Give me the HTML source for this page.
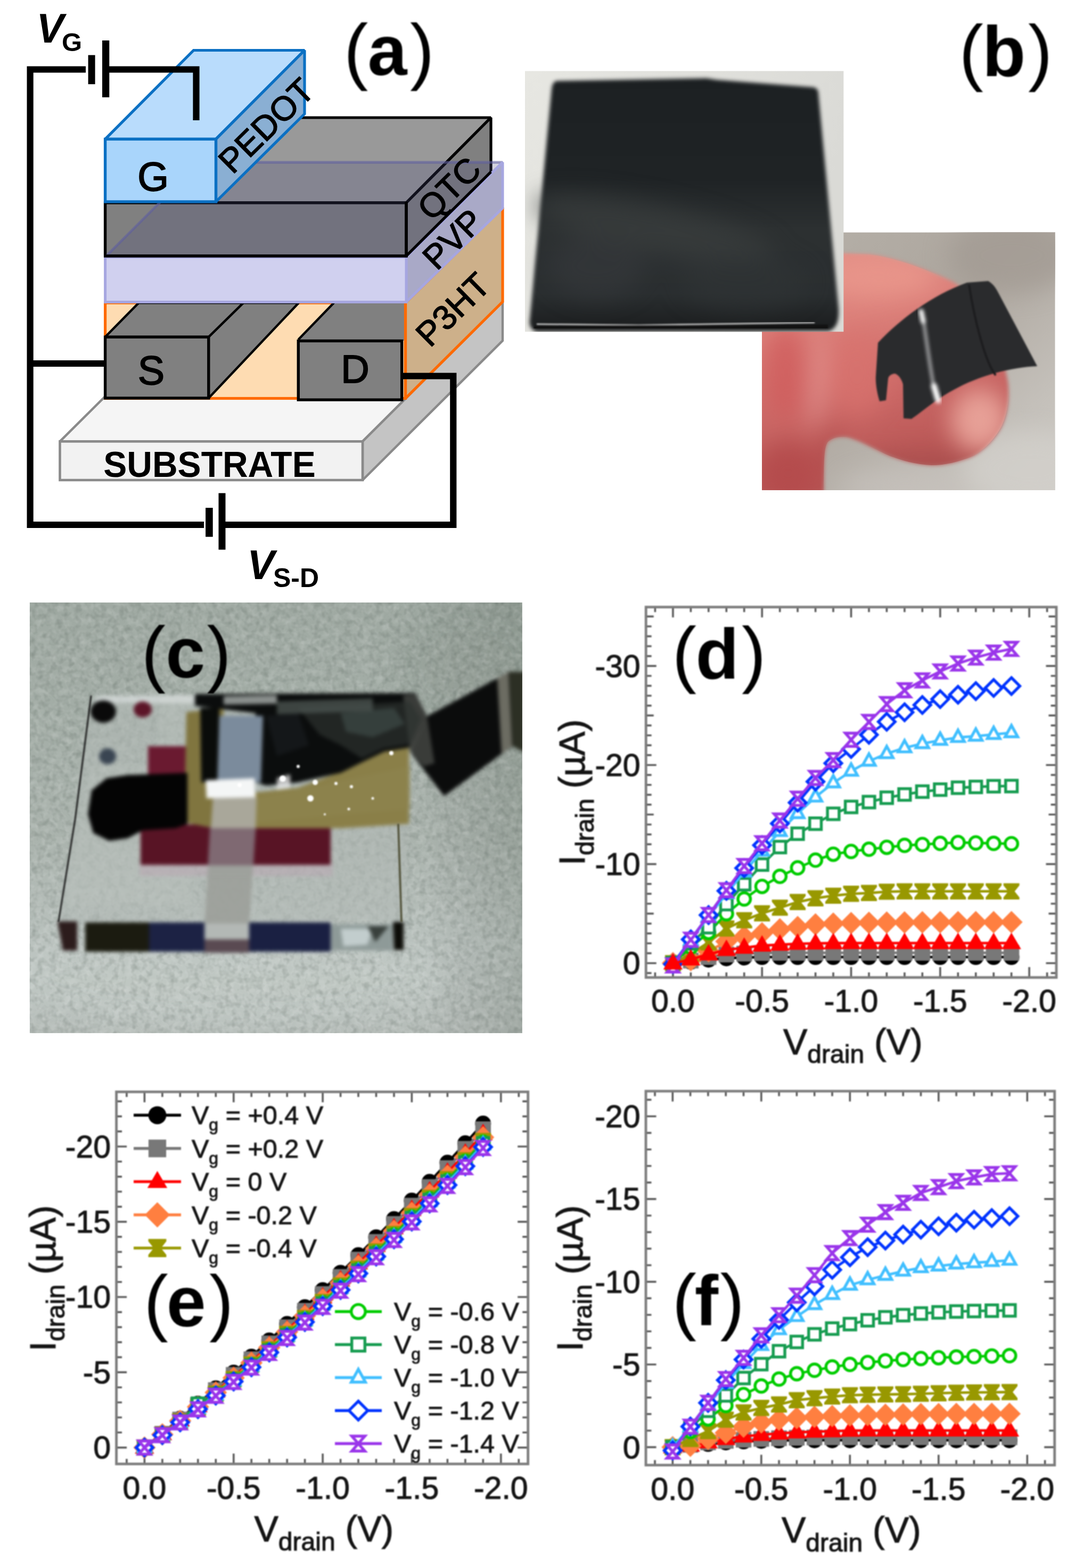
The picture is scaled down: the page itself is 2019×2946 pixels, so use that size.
<!DOCTYPE html>
<html lang="en"><head><meta charset="utf-8"><title>Figure</title>
<style>html,body{margin:0;padding:0;background:#fff}svg{display:block}</style></head>
<body>
<svg width="2019" height="2946" viewBox="0 0 2019 2946">
<defs><filter id="softA" color-interpolation-filters="sRGB" filterUnits="userSpaceOnUse" x="0" y="0" width="2019" height="1130"><feGaussianBlur stdDeviation="0.8"/></filter><filter id="softP" color-interpolation-filters="sRGB" filterUnits="userSpaceOnUse" x="0" y="1100" width="2019" height="1846"><feGaussianBlur stdDeviation="1.2"/></filter><filter id="softL" color-interpolation-filters="sRGB" filterUnits="userSpaceOnUse" x="0" y="0" width="2019" height="1400"><feGaussianBlur stdDeviation="1.0"/></filter></defs>
<rect width="2019" height="2946" fill="#fff"/>
<defs>
<filter id="b1" color-interpolation-filters="sRGB" x="-10%" y="-10%" width="120%" height="120%"><feGaussianBlur stdDeviation="1.6"/></filter>
<filter id="b3" color-interpolation-filters="sRGB" x="-20%" y="-20%" width="140%" height="140%"><feGaussianBlur stdDeviation="3.5"/></filter>
<filter id="b8" color-interpolation-filters="sRGB" x="-30%" y="-30%" width="160%" height="160%"><feGaussianBlur stdDeviation="9"/></filter>
<filter id="b20" color-interpolation-filters="sRGB" x="-50%" y="-50%" width="200%" height="200%"><feGaussianBlur stdDeviation="22"/></filter>
<filter id="grain" color-interpolation-filters="sRGB" x="0" y="0" width="100%" height="100%"><feTurbulence type="fractalNoise" baseFrequency="0.075" numOctaves="2" seed="7"/><feColorMatrix type="matrix" values="0 0 0 0 1  0 0 0 0 1  0 0 0 0 1  1.6 0 0 0 -0.62"/></filter>
<filter id="grainD" color-interpolation-filters="sRGB" x="0" y="0" width="100%" height="100%"><feTurbulence type="fractalNoise" baseFrequency="0.085" numOctaves="2" seed="3"/><feColorMatrix type="matrix" values="0 0 0 0 0.25  0 0 0 0 0.3  0 0 0 0 0.27  1.6 0 0 0 -0.7"/></filter>
<clipPath id="cpC"><rect x="55.7" y="1132" width="925.2" height="809.2"/></clipPath>
<clipPath id="cpB1"><rect x="986" y="133.3" width="598.6" height="490.2"/></clipPath>
<clipPath id="cpB2"><rect x="1431" y="436.4" width="550.7" height="484.6"/></clipPath>
<linearGradient id="gC" x1="0" y1="0" x2="0" y2="1"><stop offset="0" stop-color="#9fa9a2"/><stop offset="0.25" stop-color="#a3ada6"/><stop offset="0.55" stop-color="#aab3ad"/><stop offset="0.8" stop-color="#bac2be"/><stop offset="1" stop-color="#b6bdb9"/></linearGradient>
<linearGradient id="gCr" x1="0" y1="0" x2="1" y2="0"><stop offset="0" stop-color="#000" stop-opacity="0"/><stop offset="0.8" stop-color="#000" stop-opacity="0"/><stop offset="1" stop-color="#203020" stop-opacity="0.14"/></linearGradient>
<linearGradient id="gB1" x1="0" y1="0" x2="1" y2="0.3"><stop offset="0" stop-color="#e7e7e2"/><stop offset="1" stop-color="#dadad6"/></linearGradient>
<linearGradient id="gB1k" x1="0" y1="0" x2="0" y2="1"><stop offset="0" stop-color="#1c2022"/><stop offset="0.4" stop-color="#1f2325"/><stop offset="0.6" stop-color="#2c3031"/><stop offset="0.85" stop-color="#2a2e30"/><stop offset="1" stop-color="#1a1c1d"/></linearGradient>
<linearGradient id="gB2" x1="0" y1="0" x2="1" y2="1"><stop offset="0" stop-color="#b6b1a9"/><stop offset="0.45" stop-color="#ada69e"/><stop offset="0.8" stop-color="#c4c0ba"/><stop offset="1" stop-color="#cfccc7"/></linearGradient>
<linearGradient id="gFin" x1="0" y1="0" x2="0.25" y2="1"><stop offset="0" stop-color="#e2938a"/><stop offset="0.35" stop-color="#dc807a"/><stop offset="0.7" stop-color="#c96664"/><stop offset="1" stop-color="#b65453"/></linearGradient>
</defs>
<g id="panel-c" clip-path="url(#cpC)">
<rect x="55.7" y="1132" width="925.2" height="809.2" fill="url(#gC)"/>
<rect x="55.7" y="1132" width="925.2" height="809.2" fill="url(#gCr)"/>
<ellipse cx="420" cy="1840" rx="420" ry="90" fill="#c3cbc7" opacity="0.6" filter="url(#b20)"/>
<ellipse cx="880" cy="1250" rx="140" ry="120" fill="#8f9a92" opacity="0.5" filter="url(#b20)"/>
<rect x="55.7" y="1132" width="925.2" height="809.2" filter="url(#grain)" opacity="0.22"/>
<rect x="55.7" y="1132" width="925.2" height="809.2" filter="url(#grainD)" opacity="0.3"/>
<g filter="url(#b3)">
<polygon points="172.0,1309.0 780.0,1304.0 754.0,1732.0 110.0,1732.0" fill="#b2bab6" opacity="0.55"/>
<polygon points="172.0,1440.0 300.0,1440.0 300.0,1309.0 360.0,1309.0 360.0,1700.0 120.0,1700.0" fill="#bcc4c0" opacity="0.3"/>
<polygon points="180.0,1307.0 400.0,1305.0 400.0,1322.0 180.0,1320.0" fill="#d5dad8" opacity="0.8"/>
<polygon points="262.0,1620.0 625.0,1620.0 625.0,1646.0 262.0,1646.0" fill="#b9a8b2" opacity="0.55"/>
<polygon points="278.0,1402.0 352.0,1402.0 352.0,1458.0 278.0,1458.0" fill="#6a1a30" />
<polygon points="264.0,1549.0 621.0,1549.0 621.0,1625.0 264.0,1625.0" fill="#581425" />
<polygon points="350.0,1338.0 420.0,1330.0 420.0,1560.0 346.0,1545.0" fill="#80753f" />
<polygon points="470.0,1490.0 560.0,1480.0 640.0,1450.0 720.0,1412.0 768.0,1400.0 768.0,1548.0 640.0,1556.0 470.0,1556.0" fill="#8a7f48" />
<polygon points="480.0,1500.0 770.0,1440.0 770.0,1520.0 480.0,1545.0" fill="#8e8450" opacity="0.6"/>
<polygon points="172.0,1485.0 200.0,1462.0 240.0,1456.0 352.0,1452.0 352.0,1548.0 330.0,1556.0 268.0,1560.0 240.0,1575.0 205.0,1580.0 175.0,1565.0 165.0,1530.0" fill="#040404" />
<polygon points="366.0,1304.0 780.0,1302.0 802.0,1346.0 772.0,1404.0 722.0,1412.0 676.0,1434.0 640.0,1452.0 560.0,1470.0 500.0,1476.0 480.0,1470.0 480.0,1340.0 366.0,1326.0" fill="#0b0d0d" />
<polygon points="376.0,1330.0 412.0,1330.0 410.0,1470.0 378.0,1470.0" fill="#0a0c0a" />
<polygon points="801.0,1346.0 955.0,1263.0 985.0,1263.0 985.0,1412.0 962.0,1402.0 834.0,1496.0 773.0,1416.0" fill="#0b0c0c" />
<polygon points="757.0,1306.0 780.0,1304.0 802.0,1346.0 816.0,1434.0 796.0,1440.0 770.0,1412.0" fill="#3d3f3c" opacity="0.95"/>
<polygon points="934.0,1274.0 955.0,1263.0 962.0,1402.0 942.0,1416.0" fill="#6c6c62" />
<polygon points="956.0,1262.0 985.0,1262.0 985.0,1414.0 963.0,1402.0" fill="#2c2f24" />
<polygon points="560.0,1330.0 700.0,1322.0 770.0,1318.0 790.0,1350.0 770.0,1398.0 720.0,1406.0 680.0,1425.0 640.0,1400.0 600.0,1380.0" fill="#2c322f" opacity="0.7"/>
<polygon points="640.0,1340.0 740.0,1330.0 760.0,1360.0 700.0,1385.0 650.0,1375.0" fill="#465350" opacity="0.55"/>
<polygon points="500.0,1345.0 560.0,1340.0 580.0,1400.0 520.0,1420.0" fill="#181c20" opacity="0.7"/>
<polygon points="520.0,1318.0 700.0,1312.0 700.0,1336.0 520.0,1342.0" fill="#4a524f" opacity="0.8"/>
<polygon points="420.0,1308.0 520.0,1306.0 520.0,1322.0 420.0,1324.0" fill="#aab0ae" opacity="0.8"/>
<polygon points="412.0,1345.0 494.0,1345.0 490.0,1470.0 408.0,1470.0" fill="#7b8b9c" />
<polygon points="396.0,1556.0 480.0,1556.0 468.0,1735.0 384.0,1735.0" fill="#9c9f9a" opacity="0.92"/>
<polygon points="394.0,1552.0 480.0,1552.0 476.0,1626.0 390.0,1626.0" fill="#7a626c" opacity="0.85"/>
<polygon points="400.0,1498.0 482.0,1498.0 480.0,1556.0 396.0,1556.0" fill="#a9a79a" />
<polygon points="386.0,1466.0 478.0,1462.0 480.0,1498.0 388.0,1500.0" fill="#f4f6f6" />
<polygon points="520.0,1462.0 545.0,1455.0 545.0,1480.0 520.0,1484.0" fill="#e8e8e8" opacity="0.8"/>
<polygon points="108.0,1731.0 145.0,1731.0 145.0,1786.0 118.0,1786.0" fill="#2c1c1c" />
<polygon points="160.0,1733.0 280.0,1733.0 280.0,1788.0 160.0,1788.0" fill="#1b1b10" />
<polygon points="280.0,1733.0 384.0,1733.0 384.0,1788.0 280.0,1788.0" fill="#1c2244" />
<polygon points="384.0,1735.0 468.0,1735.0 468.0,1765.0 384.0,1765.0" fill="#b3b8b5" />
<polygon points="384.0,1765.0 468.0,1765.0 468.0,1790.0 384.0,1790.0" fill="#5a4a52" />
<polygon points="468.0,1733.0 621.0,1733.0 621.0,1788.0 468.0,1788.0" fill="#1a2042" />
<polygon points="621.0,1737.0 738.0,1737.0 738.0,1786.0 621.0,1786.0" fill="#8e9a98" />
<polygon points="640.0,1745.0 700.0,1745.0 690.0,1775.0 645.0,1778.0" fill="#c2cdcd" />
<polygon points="690.0,1740.0 730.0,1740.0 705.0,1770.0" fill="#39403c" />
<polygon points="738.0,1732.0 758.0,1732.0 758.0,1785.0 740.0,1785.0" fill="#0d0d08" />
<ellipse cx="194" cy="1337" rx="24" ry="21" fill="#0a0a0a"/>
<ellipse cx="268" cy="1333" rx="17" ry="15" fill="#5c1528"/>
<ellipse cx="202" cy="1421" rx="16" ry="15" fill="#3a4552"/>
</g>
<g filter="url(#b1)" fill="none" stroke-linecap="round">
<path d="M171,1308 L141,1540 L110,1731" stroke="#1c1c1c" stroke-width="3"/>
<path d="M748,1549 L754,1731" stroke="#4a4a30" stroke-width="3.5"/>
</g>
<g fill="#fff" filter="url(#b1)">
<circle cx="531" cy="1463" r="6"/>
<circle cx="592" cy="1470" r="5"/>
<circle cx="583" cy="1500" r="6"/>
<circle cx="631" cy="1472" r="3"/>
<circle cx="660" cy="1478" r="3"/>
<circle cx="735" cy="1415" r="4"/>
<circle cx="560" cy="1440" r="3"/>
<circle cx="700" cy="1500" r="2.5"/>
<circle cx="655" cy="1520" r="2.5"/>
<circle cx="610" cy="1530" r="2"/>
<circle cx="450" cy="1475" r="4"/>
</g>
</g>
<g id="panel-b2" clip-path="url(#cpB2)">
<rect x="1431" y="436.4" width="550.7" height="484.6" fill="url(#gB2)"/>
<g filter="url(#b20)">
<ellipse cx="1900" cy="480" rx="120" ry="70" fill="#a39b93" opacity="0.8"/>
<ellipse cx="1930" cy="880" rx="120" ry="70" fill="#d2cfcb" opacity="0.8"/>
<ellipse cx="1700" cy="915" rx="120" ry="30" fill="#c6c1bb" opacity="0.8"/>
</g>
<clipPath id="cpFin"><path d="M1420,470 L1586,476 L1633,478 C1660,481 1690,490 1711,497 C1740,507 1770,520 1789,529 C1840,560 1880,640 1893,718 C1896,745 1893,775 1882,799 C1872,820 1850,845 1827,857 C1800,868 1775,874 1750,874 C1720,873 1695,865 1672,857 C1650,848 1620,830 1594,822 C1580,819 1565,821 1555,830 C1548,840 1547,860 1547,925 L1420,925 Z"/></clipPath>
<g filter="url(#b3)"><path d="M1420,470 L1586,476 L1633,478 C1660,481 1690,490 1711,497 C1740,507 1770,520 1789,529 C1840,560 1880,640 1893,718 C1896,745 1893,775 1882,799 C1872,820 1850,845 1827,857 C1800,868 1775,874 1750,874 C1720,873 1695,865 1672,857 C1650,848 1620,830 1594,822 C1580,819 1565,821 1555,830 C1548,840 1547,860 1547,925 L1420,925 Z" fill="url(#gFin)"/></g>
<g clip-path="url(#cpFin)"><g filter="url(#b20)">
<ellipse cx="1650" cy="520" rx="110" ry="40" fill="#e9968b" opacity="0.9"/>
<ellipse cx="1840" cy="790" rx="55" ry="60" fill="#eba79d" opacity="0.9"/>
<ellipse cx="1730" cy="880" rx="130" ry="28" fill="#a84f4e" opacity="0.9"/>
<ellipse cx="1480" cy="890" rx="60" ry="60" fill="#b44a4b" opacity="0.9"/>
<ellipse cx="1610" cy="700" rx="60" ry="80" fill="#d9726e" opacity="0.7"/>
<ellipse cx="1475" cy="700" rx="40" ry="90" fill="#cf5c5c" opacity="0.8"/>
<ellipse cx="1535" cy="720" rx="10" ry="90" fill="#e9a3a0" opacity="0.9" transform="rotate(4 1535 720)"/>
<ellipse cx="1560" cy="850" rx="22" ry="50" fill="#b04c4c" opacity="0.7"/>
</g></g>
<g filter="url(#b1)">
<path d="M1816,531 L1856,528 C1868,535 1872,545 1876,552 L1948,688 C1900,690 1840,705 1790,733 C1755,752 1730,775 1712,787 L1697,786 L1696,722 C1692,708 1684,702 1680,702 C1672,703 1668,708 1668,712 L1664,752 L1652,754 C1646,735 1644,715 1645,705 L1649,644 C1690,600 1750,555 1816,531 Z" fill="#2a2b2d"/>
<path d="M1820,535 C1830,600 1850,680 1870,705" stroke="#1c1c1e" stroke-width="4" fill="none"/>
</g>
<g filter="url(#b3)">
<path d="M1733,592 C1740,640 1748,700 1757,745" stroke="#d8d8da" stroke-width="5" fill="none" stroke-linecap="round" opacity="0.85"/>
<path d="M1730,585 L1734,604" stroke="#fff" stroke-width="9" fill="none" stroke-linecap="round"/>
<path d="M1754,725 L1762,752" stroke="#fff" stroke-width="11" fill="none" stroke-linecap="round"/>
</g>
</g>
<g id="panel-b1" clip-path="url(#cpB1)">
<rect x="986" y="133.3" width="598.6" height="490.2" fill="url(#gB1)"/>
<g filter="url(#b3)">
<path d="M1046,152 L1327,147 L1346,150 L1528,164 C1535,166 1537,170 1537,176 L1575,580 C1576,605 1570,618 1556,622 L1008,623 C998,620 993,612 995,600 L1036,168 C1037,158 1040,153 1046,152 Z" fill="url(#gB1k)"/>
</g>
<g filter="url(#b20)">
<ellipse cx="1230" cy="430" rx="230" ry="45" fill="#3a3d3d" opacity="0.75" transform="rotate(12 1230 430)"/>
<ellipse cx="1120" cy="500" rx="90" ry="60" fill="#34383a" opacity="0.7"/>
<ellipse cx="1400" cy="530" rx="120" ry="50" fill="#2f3335" opacity="0.7"/>
</g>
<g filter="url(#b1)">
<path d="M1008,609 L1200,611 L1530,606" stroke="#d8d8d8" stroke-width="2.5" fill="none"/>
<path d="M1003,616 L1555,614" stroke="#121212" stroke-width="8" fill="none"/>
</g>
</g>
<g filter="url(#softL)"><text font-family="'Liberation Sans', sans-serif" font-size="137"><tspan x="265.5" y="1273.8">(</tspan><tspan x="311.2" y="1273.0" font-size="133" font-weight="bold">c</tspan><tspan x="388.6" y="1273.8">)</tspan></text><text font-family="'Liberation Sans', sans-serif" font-size="137"><tspan x="1801.3" y="143.8">(</tspan><tspan x="1845.0" y="143.0" font-size="133" font-weight="bold">b</tspan><tspan x="1931.1" y="143.8">)</tspan></text></g>
<g id="panel-a">
<polygon points="112.5,829.4 681.0,829.4 944.0,567.0 376.0,567.0" fill="#f5f5f5" stroke="#8a8a8a" stroke-width="4.4" stroke-linejoin="miter" stroke-miterlimit="2" />
<polygon points="681.0,829.4 944.0,567.0 944.0,640.0 681.0,902.0" fill="#c4c4c4" stroke="#8a8a8a" stroke-width="4.4" stroke-linejoin="miter" stroke-miterlimit="2" />
<rect x="112.5" y="829.4" width="568.5" height="72.6" fill="#f2f2f2" stroke="#8a8a8a" stroke-width="4.6"/>
<rect x="197.6" y="569.0" width="563.9" height="179.5" fill="#fedcb2" stroke="#ff6a00" stroke-width="5.2"/>
<polygon points="761.5,569.0 944.0,390.0 944.0,567.0 761.5,748.5" fill="#cdb08a" stroke="#ff6a00" stroke-width="5.2" stroke-linejoin="miter" stroke-miterlimit="2" />
<polygon points="391.8,633.0 457.0,569.0 561.0,569.0 391.8,748.0" fill="#808080" stroke="#000" stroke-width="4.4" stroke-linejoin="miter" stroke-miterlimit="2" />
<polygon points="197.6,633.0 391.8,633.0 457.0,569.0 260.6,569.0" fill="#808080" stroke="#000" stroke-width="4.4" stroke-linejoin="miter" stroke-miterlimit="2" />
<rect x="197.6" y="633.2" width="194.2" height="114.8" fill="#808080" stroke="#000" stroke-width="5.4"/>
<polygon points="560.3,640.0 626.0,569.0 759.5,569.0 759.5,640.0" fill="#808080" />
<line x1="560.3" y1="638.0" x2="627.0" y2="569.0" stroke="#000" stroke-width="4.4" stroke-linecap="butt"/>
<line x1="761.5" y1="569.0" x2="761.5" y2="748.5" stroke="#ff6a00" stroke-width="5.2" stroke-linecap="butt"/>
<rect x="560.3" y="640.5" width="194.4" height="110.7" fill="#808080" stroke="#000" stroke-width="5.4"/>
<polygon points="197.6,381.0 763.0,381.0 922.0,221.0 356.6,221.0" fill="#999999" stroke="#000" stroke-width="5.2" stroke-linejoin="miter" stroke-miterlimit="2" />
<polygon points="763.0,381.0 922.0,221.0 922.0,323.0 763.0,481.0" fill="#808080" stroke="#000" stroke-width="5.2" stroke-linejoin="miter" stroke-miterlimit="2" />
<rect x="197.6" y="381.0" width="565.4" height="100.0" fill="#808080" stroke="#000" stroke-width="5.4"/>
<polygon points="197.6,483.0 763.0,483.0 944.0,305.0 375.6,305.0" fill="rgba(70,70,120,0.24)" stroke="rgba(95,95,160,0.6)" stroke-width="4.8" stroke-linejoin="miter" stroke-miterlimit="2" />
<polygon points="763.0,483.0 944.0,305.0 944.0,391.0 763.0,567.5" fill="#a9a9c7" stroke="#a6a6e0" stroke-width="5.0" stroke-linejoin="miter" stroke-miterlimit="2" />
<rect x="197.6" y="483.0" width="565.4" height="84.5" fill="#d0d0ef" stroke="#a6a6e0" stroke-width="5.0"/>
<line x1="195.1" y1="481.0" x2="765.5" y2="481.0" stroke="#000" stroke-width="5.4" stroke-linecap="butt"/>
<line x1="763.0" y1="481.0" x2="922.0" y2="323.0" stroke="#000" stroke-width="5.2" stroke-linecap="butt"/>
<line x1="763.0" y1="379.0" x2="763.0" y2="483.5" stroke="#000" stroke-width="5.4" stroke-linecap="butt"/>
<polygon points="197.6,261.4 405.5,261.4 572.0,94.5 363.6,94.5" fill="#b9dcfc" stroke="#0b70c3" stroke-width="5.2" stroke-linejoin="miter" stroke-miterlimit="2" />
<polygon points="405.5,261.4 572.0,94.5 572.0,214.0 405.5,379.0" fill="#8aafd3" stroke="#0b70c3" stroke-width="5.2" stroke-linejoin="miter" stroke-miterlimit="2" />
<rect x="197.6" y="261.4" width="207.9" height="117.6" fill="#a9d5fb" stroke="#0b70c3" stroke-width="5.4"/>
<path d="M161,130.5 H56.6 V986 H383" fill="none" stroke="#000" stroke-width="12.2" stroke-linejoin="miter"/>
<path d="M205,130.5 H368.5 V226" fill="none" stroke="#000" stroke-width="12.2" stroke-linejoin="miter"/>
<rect x="165.6" y="103.5" width="13.0" height="54.7" fill="#000"/>
<rect x="192.0" y="76.0" width="13.3" height="106.8" fill="#000"/>
<line x1="56.0" y1="683.0" x2="197.6" y2="683.0" stroke="#000" stroke-width="12.2" stroke-linecap="butt"/>
<path d="M423,986 H851.3 V706.5 H756" fill="none" stroke="#000" stroke-width="12.2" stroke-linejoin="miter"/>
<rect x="386.1" y="954.1" width="13.6" height="54.5" fill="#000"/>
<rect x="410.5" y="926.5" width="13.0" height="106.2" fill="#000"/>
<text x="287.5" y="357.5" font-family="'Liberation Sans', sans-serif" font-size="75.5" stroke="#000" stroke-width="1.8" stroke-linejoin="round" text-anchor="middle">G</text>
<text x="284" y="722" font-family="'Liberation Sans', sans-serif" font-size="75.5" stroke="#000" stroke-width="1.8" stroke-linejoin="round" text-anchor="middle">S</text>
<text x="667" y="718.5" font-family="'Liberation Sans', sans-serif" font-size="74" stroke="#000" stroke-width="1.8" stroke-linejoin="round" text-anchor="middle">D</text>
<text x="393.5" y="896" font-family="'Liberation Sans', sans-serif" font-size="66" font-weight="bold" text-anchor="middle" transform="translate(0,896) scale(1,1.05) translate(0,-896)">SUBSTRATE</text>
<text transform="translate(500,236) rotate(-44.5)" font-family="'Liberation Sans', sans-serif" font-size="64" stroke="#000" stroke-width="1.5" stroke-linejoin="round" text-anchor="middle" dominant-baseline="central">PEDOT</text>
<text transform="translate(843.6,354.1) rotate(-44.5)" font-family="'Liberation Sans', sans-serif" font-size="64" stroke="#000" stroke-width="1.5" stroke-linejoin="round" text-anchor="middle" dominant-baseline="central">QTC</text>
<text transform="translate(850.6,449.4) rotate(-44.5)" font-family="'Liberation Sans', sans-serif" font-size="64" stroke="#000" stroke-width="1.5" stroke-linejoin="round" text-anchor="middle" dominant-baseline="central">PVP</text>
<text transform="translate(850.5,581.5) rotate(-44.5)" font-family="'Liberation Sans', sans-serif" font-size="64" stroke="#000" stroke-width="1.5" stroke-linejoin="round" text-anchor="middle" dominant-baseline="central">P3HT</text>
<text font-family="'Liberation Sans', sans-serif" font-weight="bold"><tspan x="68.5" y="80" font-size="77" font-style="italic">V</tspan><tspan x="116" y="96" font-size="49">G</tspan></text>
<text font-family="'Liberation Sans', sans-serif" font-weight="bold"><tspan x="464.2" y="1088" font-size="77" font-style="italic">V</tspan><tspan x="513" y="1103" font-size="50">S-D</tspan></text>
<g filter="url(#softL)"><text font-family="'Liberation Sans', sans-serif" font-size="137"><tspan x="645.7" y="141.8">(</tspan><tspan x="690.6" y="141.0" font-size="133" font-weight="bold">a</tspan><tspan x="770.1" y="141.8">)</tspan></text></g>
</g>
<g filter="url(#softP)"><g id="panel-d"><path d="M1230.4,1836.5v-9.5M1230.4,1140.6v9.5M1263.9,1836.5v-19.5M1263.9,1140.6v19.5M1297.4,1836.5v-9.5M1297.4,1140.6v9.5M1330.8,1836.5v-9.5M1330.8,1140.6v9.5M1364.3,1836.5v-9.5M1364.3,1140.6v9.5M1397.7,1836.5v-9.5M1397.7,1140.6v9.5M1431.2,1836.5v-19.5M1431.2,1140.6v19.5M1464.7,1836.5v-9.5M1464.7,1140.6v9.5M1498.1,1836.5v-9.5M1498.1,1140.6v9.5M1531.6,1836.5v-9.5M1531.6,1140.6v9.5M1565.0,1836.5v-9.5M1565.0,1140.6v9.5M1598.5,1836.5v-19.5M1598.5,1140.6v19.5M1632.0,1836.5v-9.5M1632.0,1140.6v9.5M1665.4,1836.5v-9.5M1665.4,1140.6v9.5M1698.9,1836.5v-9.5M1698.9,1140.6v9.5M1732.3,1836.5v-9.5M1732.3,1140.6v9.5M1765.8,1836.5v-19.5M1765.8,1140.6v19.5M1799.3,1836.5v-9.5M1799.3,1140.6v9.5M1832.7,1836.5v-9.5M1832.7,1140.6v9.5M1866.2,1836.5v-9.5M1866.2,1140.6v9.5M1899.6,1836.5v-9.5M1899.6,1140.6v9.5M1933.1,1836.5v-19.5M1933.1,1140.6v19.5M1966.6,1836.5v-9.5M1966.6,1140.6v9.5M1213.2,1828.2h10.4M1984.0,1828.2h-10.4M1213.2,1809.6h19.5M1984.0,1809.6h-19.5M1213.2,1791.0h10.4M1984.0,1791.0h-10.4M1213.2,1772.4h10.4M1984.0,1772.4h-10.4M1213.2,1753.8h10.4M1984.0,1753.8h-10.4M1213.2,1735.2h10.4M1984.0,1735.2h-10.4M1213.2,1716.5h14.5M1984.0,1716.5h-14.5M1213.2,1697.9h10.4M1984.0,1697.9h-10.4M1213.2,1679.3h10.4M1984.0,1679.3h-10.4M1213.2,1660.7h10.4M1984.0,1660.7h-10.4M1213.2,1642.1h10.4M1984.0,1642.1h-10.4M1213.2,1623.5h19.5M1984.0,1623.5h-19.5M1213.2,1604.9h10.4M1984.0,1604.9h-10.4M1213.2,1586.3h10.4M1984.0,1586.3h-10.4M1213.2,1567.7h10.4M1984.0,1567.7h-10.4M1213.2,1549.1h10.4M1984.0,1549.1h-10.4M1213.2,1530.4h14.5M1984.0,1530.4h-14.5M1213.2,1511.8h10.4M1984.0,1511.8h-10.4M1213.2,1493.2h10.4M1984.0,1493.2h-10.4M1213.2,1474.6h10.4M1984.0,1474.6h-10.4M1213.2,1456.0h10.4M1984.0,1456.0h-10.4M1213.2,1437.4h19.5M1984.0,1437.4h-19.5M1213.2,1418.8h10.4M1984.0,1418.8h-10.4M1213.2,1400.2h10.4M1984.0,1400.2h-10.4M1213.2,1381.6h10.4M1984.0,1381.6h-10.4M1213.2,1363.0h10.4M1984.0,1363.0h-10.4M1213.2,1344.3h14.5M1984.0,1344.3h-14.5M1213.2,1325.7h10.4M1984.0,1325.7h-10.4M1213.2,1307.1h10.4M1984.0,1307.1h-10.4M1213.2,1288.5h10.4M1984.0,1288.5h-10.4M1213.2,1269.9h10.4M1984.0,1269.9h-10.4M1213.2,1251.3h19.5M1984.0,1251.3h-19.5M1213.2,1232.7h10.4M1984.0,1232.7h-10.4M1213.2,1214.1h10.4M1984.0,1214.1h-10.4M1213.2,1195.5h10.4M1984.0,1195.5h-10.4M1213.2,1176.9h10.4M1984.0,1176.9h-10.4M1213.2,1158.2h14.5M1984.0,1158.2h-14.5" stroke="#505050" stroke-width="3.4" fill="none"/>
<rect x="1213.2" y="1140.6" width="770.8" height="695.9" fill="none" stroke="#7c7c7c" stroke-width="4.8"/>
<text x="1263.9" y="1900.8" font-family="'Liberation Sans', sans-serif" font-size="59" text-anchor="middle" fill="#141414" stroke="#141414" stroke-width="1.1">0.0</text>
<text x="1431.2" y="1900.8" font-family="'Liberation Sans', sans-serif" font-size="59" text-anchor="middle" fill="#141414" stroke="#141414" stroke-width="1.1">-0.5</text>
<text x="1598.5" y="1900.8" font-family="'Liberation Sans', sans-serif" font-size="59" text-anchor="middle" fill="#141414" stroke="#141414" stroke-width="1.1">-1.0</text>
<text x="1765.8" y="1900.8" font-family="'Liberation Sans', sans-serif" font-size="59" text-anchor="middle" fill="#141414" stroke="#141414" stroke-width="1.1">-1.5</text>
<text x="1933.1" y="1900.8" font-family="'Liberation Sans', sans-serif" font-size="59" text-anchor="middle" fill="#141414" stroke="#141414" stroke-width="1.1">-2.0</text>
<text x="1202.7" y="1830.1" font-family="'Liberation Sans', sans-serif" font-size="59" text-anchor="end" fill="#141414" stroke="#141414" stroke-width="1.1">0</text>
<text x="1202.7" y="1644.0" font-family="'Liberation Sans', sans-serif" font-size="59" text-anchor="end" fill="#141414" stroke="#141414" stroke-width="1.1">-10</text>
<text x="1202.7" y="1457.9" font-family="'Liberation Sans', sans-serif" font-size="59" text-anchor="end" fill="#141414" stroke="#141414" stroke-width="1.1">-20</text>
<text x="1202.7" y="1271.8" font-family="'Liberation Sans', sans-serif" font-size="59" text-anchor="end" fill="#141414" stroke="#141414" stroke-width="1.1">-30</text>
<text x="1471.0" y="1980.9" font-family="'Liberation Sans', sans-serif" font-size="68" fill="#141414" stroke="#141414" stroke-width="1.1">V<tspan font-size="48" dy="16.5">drain</tspan><tspan dy="-16.5"> (V)</tspan></text>
<text transform="translate(1097.8,1626.0) rotate(-90)" font-family="'Liberation Sans', sans-serif" font-size="68" fill="#141414" stroke="#141414" stroke-width="1.1">I<tspan font-size="48" dy="16.8">drain</tspan><tspan dy="-16.8"> (µA)</tspan></text><path d="M1263.9,1809.6 L1297.4,1806.8 L1330.8,1802.9 L1364.3,1800.5 L1397.7,1799.0 L1431.2,1798.1 L1464.7,1798.1 L1498.1,1798.1 L1531.6,1798.1 L1565.0,1798.1 L1598.5,1798.1 L1632.0,1798.1 L1665.4,1798.1 L1698.9,1798.1 L1732.3,1798.1 L1765.8,1798.1 L1799.3,1798.1 L1832.7,1798.1 L1866.2,1798.1 L1899.6,1798.1" fill="none" stroke="#000000" stroke-width="4.8" stroke-linejoin="round"/>
<circle cx="1263.9" cy="1809.6" r="15.0" fill="#000000"/>
<circle cx="1297.4" cy="1806.8" r="15.0" fill="#000000"/>
<circle cx="1330.8" cy="1802.9" r="15.0" fill="#000000"/>
<circle cx="1364.3" cy="1800.5" r="15.0" fill="#000000"/>
<circle cx="1397.7" cy="1799.0" r="15.0" fill="#000000"/>
<circle cx="1431.2" cy="1798.1" r="15.0" fill="#000000"/>
<circle cx="1464.7" cy="1798.1" r="15.0" fill="#000000"/>
<circle cx="1498.1" cy="1798.1" r="15.0" fill="#000000"/>
<circle cx="1531.6" cy="1798.1" r="15.0" fill="#000000"/>
<circle cx="1565.0" cy="1798.1" r="15.0" fill="#000000"/>
<circle cx="1598.5" cy="1798.1" r="15.0" fill="#000000"/>
<circle cx="1632.0" cy="1798.1" r="15.0" fill="#000000"/>
<circle cx="1665.4" cy="1798.1" r="15.0" fill="#000000"/>
<circle cx="1698.9" cy="1798.1" r="15.0" fill="#000000"/>
<circle cx="1732.3" cy="1798.1" r="15.0" fill="#000000"/>
<circle cx="1765.8" cy="1798.1" r="15.0" fill="#000000"/>
<circle cx="1799.3" cy="1798.1" r="15.0" fill="#000000"/>
<circle cx="1832.7" cy="1798.1" r="15.0" fill="#000000"/>
<circle cx="1866.2" cy="1798.1" r="15.0" fill="#000000"/>
<circle cx="1899.6" cy="1798.1" r="15.0" fill="#000000"/>
<path d="M1263.9,1809.6 L1297.4,1804.8 L1330.8,1798.2 L1364.3,1793.4 L1397.7,1791.7 L1431.2,1790.6 L1464.7,1790.2 L1498.1,1790.2 L1531.6,1790.2 L1565.0,1790.2 L1598.5,1790.2 L1632.0,1790.2 L1665.4,1790.2 L1698.9,1790.2 L1732.3,1790.2 L1765.8,1790.2 L1799.3,1790.2 L1832.7,1790.2 L1866.2,1790.2 L1899.6,1790.2" fill="none" stroke="#787878" stroke-width="4.8" stroke-linejoin="round"/>
<rect x="1249.2" y="1794.9" width="29.4" height="29.4" fill="#787878"/>
<rect x="1282.7" y="1790.1" width="29.4" height="29.4" fill="#787878"/>
<rect x="1316.1" y="1783.5" width="29.4" height="29.4" fill="#787878"/>
<rect x="1349.6" y="1778.7" width="29.4" height="29.4" fill="#787878"/>
<rect x="1383.0" y="1777.0" width="29.4" height="29.4" fill="#787878"/>
<rect x="1416.5" y="1775.9" width="29.4" height="29.4" fill="#787878"/>
<rect x="1450.0" y="1775.5" width="29.4" height="29.4" fill="#787878"/>
<rect x="1483.4" y="1775.5" width="29.4" height="29.4" fill="#787878"/>
<rect x="1516.9" y="1775.5" width="29.4" height="29.4" fill="#787878"/>
<rect x="1550.3" y="1775.5" width="29.4" height="29.4" fill="#787878"/>
<rect x="1583.8" y="1775.5" width="29.4" height="29.4" fill="#787878"/>
<rect x="1617.3" y="1775.5" width="29.4" height="29.4" fill="#787878"/>
<rect x="1650.7" y="1775.5" width="29.4" height="29.4" fill="#787878"/>
<rect x="1684.2" y="1775.5" width="29.4" height="29.4" fill="#787878"/>
<rect x="1717.6" y="1775.5" width="29.4" height="29.4" fill="#787878"/>
<rect x="1751.1" y="1775.5" width="29.4" height="29.4" fill="#787878"/>
<rect x="1784.6" y="1775.5" width="29.4" height="29.4" fill="#787878"/>
<rect x="1818.0" y="1775.5" width="29.4" height="29.4" fill="#787878"/>
<rect x="1851.5" y="1775.5" width="29.4" height="29.4" fill="#787878"/>
<rect x="1884.9" y="1775.5" width="29.4" height="29.4" fill="#787878"/>
<path d="M1263.9,1809.6 L1297.4,1804.0 L1330.8,1787.3 L1364.3,1768.8 L1397.7,1759.9 L1431.2,1753.4 L1464.7,1746.1 L1498.1,1741.7 L1531.6,1736.8 L1565.0,1735.2 L1598.5,1734.2 L1632.0,1733.7 L1665.4,1733.3 L1698.9,1732.9 L1732.3,1732.7 L1765.8,1732.6 L1799.3,1732.6 L1832.7,1732.6 L1866.2,1732.6 L1899.6,1732.6" fill="none" stroke="#ff7f40" stroke-width="4.8" stroke-linejoin="round"/>
<polygon points="1263.9,1788.6 1284.9,1809.6 1263.9,1830.6 1242.9,1809.6" fill="#ff7f40"/>
<polygon points="1297.4,1783.0 1318.4,1804.0 1297.4,1825.0 1276.4,1804.0" fill="#ff7f40"/>
<polygon points="1330.8,1766.3 1351.8,1787.3 1330.8,1808.3 1309.8,1787.3" fill="#ff7f40"/>
<polygon points="1364.3,1747.8 1385.3,1768.8 1364.3,1789.8 1343.3,1768.8" fill="#ff7f40"/>
<polygon points="1397.7,1738.9 1418.7,1759.9 1397.7,1780.9 1376.7,1759.9" fill="#ff7f40"/>
<polygon points="1431.2,1732.4 1452.2,1753.4 1431.2,1774.4 1410.2,1753.4" fill="#ff7f40"/>
<polygon points="1464.7,1725.1 1485.7,1746.1 1464.7,1767.1 1443.7,1746.1" fill="#ff7f40"/>
<polygon points="1498.1,1720.7 1519.1,1741.7 1498.1,1762.7 1477.1,1741.7" fill="#ff7f40"/>
<polygon points="1531.6,1715.8 1552.6,1736.8 1531.6,1757.8 1510.6,1736.8" fill="#ff7f40"/>
<polygon points="1565.0,1714.2 1586.0,1735.2 1565.0,1756.2 1544.0,1735.2" fill="#ff7f40"/>
<polygon points="1598.5,1713.2 1619.5,1734.2 1598.5,1755.2 1577.5,1734.2" fill="#ff7f40"/>
<polygon points="1632.0,1712.7 1653.0,1733.7 1632.0,1754.7 1611.0,1733.7" fill="#ff7f40"/>
<polygon points="1665.4,1712.3 1686.4,1733.3 1665.4,1754.3 1644.4,1733.3" fill="#ff7f40"/>
<polygon points="1698.9,1711.9 1719.9,1732.9 1698.9,1753.9 1677.9,1732.9" fill="#ff7f40"/>
<polygon points="1732.3,1711.7 1753.3,1732.7 1732.3,1753.7 1711.3,1732.7" fill="#ff7f40"/>
<polygon points="1765.8,1711.6 1786.8,1732.6 1765.8,1753.6 1744.8,1732.6" fill="#ff7f40"/>
<polygon points="1799.3,1711.6 1820.3,1732.6 1799.3,1753.6 1778.3,1732.6" fill="#ff7f40"/>
<polygon points="1832.7,1711.6 1853.7,1732.6 1832.7,1753.6 1811.7,1732.6" fill="#ff7f40"/>
<polygon points="1866.2,1711.6 1887.2,1732.6 1866.2,1753.6 1845.2,1732.6" fill="#ff7f40"/>
<polygon points="1899.6,1711.6 1920.6,1732.6 1899.6,1753.6 1878.6,1732.6" fill="#ff7f40"/>
<path d="M1263.9,1809.6 L1297.4,1792.3 L1330.8,1770.5 L1364.3,1744.5 L1397.7,1729.0 L1431.2,1716.0 L1464.7,1705.4 L1498.1,1694.8 L1531.6,1687.7 L1565.0,1682.9 L1598.5,1679.3 L1632.0,1677.8 L1665.4,1675.4 L1698.9,1674.7 L1732.3,1674.7 L1765.8,1674.7 L1799.3,1674.7 L1832.7,1674.7 L1866.2,1674.7 L1899.6,1674.7" fill="none" stroke="#989800" stroke-width="4.8" stroke-linejoin="round"/>
<polygon points="1248.9,1794.4 1278.9,1794.4 1278.9,1798.4 1269.9,1809.6 1278.9,1820.8 1278.9,1824.8 1248.9,1824.8 1248.9,1820.8 1257.9,1809.6 1248.9,1798.4" fill="#989800"/>
<polygon points="1282.4,1777.1 1312.4,1777.1 1312.4,1781.1 1303.4,1792.3 1312.4,1803.5 1312.4,1807.5 1282.4,1807.5 1282.4,1803.5 1291.4,1792.3 1282.4,1781.1" fill="#989800"/>
<polygon points="1315.8,1755.3 1345.8,1755.3 1345.8,1759.3 1336.8,1770.5 1345.8,1781.7 1345.8,1785.7 1315.8,1785.7 1315.8,1781.7 1324.8,1770.5 1315.8,1759.3" fill="#989800"/>
<polygon points="1349.3,1729.3 1379.3,1729.3 1379.3,1733.3 1370.3,1744.5 1379.3,1755.7 1379.3,1759.7 1349.3,1759.7 1349.3,1755.7 1358.3,1744.5 1349.3,1733.3" fill="#989800"/>
<polygon points="1382.7,1713.8 1412.7,1713.8 1412.7,1717.8 1403.7,1729.0 1412.7,1740.2 1412.7,1744.2 1382.7,1744.2 1382.7,1740.2 1391.7,1729.0 1382.7,1717.8" fill="#989800"/>
<polygon points="1416.2,1700.8 1446.2,1700.8 1446.2,1704.8 1437.2,1716.0 1446.2,1727.2 1446.2,1731.2 1416.2,1731.2 1416.2,1727.2 1425.2,1716.0 1416.2,1704.8" fill="#989800"/>
<polygon points="1449.7,1690.2 1479.7,1690.2 1479.7,1694.2 1470.7,1705.4 1479.7,1716.6 1479.7,1720.6 1449.7,1720.6 1449.7,1716.6 1458.7,1705.4 1449.7,1694.2" fill="#989800"/>
<polygon points="1483.1,1679.6 1513.1,1679.6 1513.1,1683.6 1504.1,1694.8 1513.1,1706.0 1513.1,1710.0 1483.1,1710.0 1483.1,1706.0 1492.1,1694.8 1483.1,1683.6" fill="#989800"/>
<polygon points="1516.6,1672.5 1546.6,1672.5 1546.6,1676.5 1537.6,1687.7 1546.6,1698.9 1546.6,1702.9 1516.6,1702.9 1516.6,1698.9 1525.6,1687.7 1516.6,1676.5" fill="#989800"/>
<polygon points="1550.0,1667.7 1580.0,1667.7 1580.0,1671.7 1571.0,1682.9 1580.0,1694.1 1580.0,1698.1 1550.0,1698.1 1550.0,1694.1 1559.0,1682.9 1550.0,1671.7" fill="#989800"/>
<polygon points="1583.5,1664.1 1613.5,1664.1 1613.5,1668.1 1604.5,1679.3 1613.5,1690.5 1613.5,1694.5 1583.5,1694.5 1583.5,1690.5 1592.5,1679.3 1583.5,1668.1" fill="#989800"/>
<polygon points="1617.0,1662.6 1647.0,1662.6 1647.0,1666.6 1638.0,1677.8 1647.0,1689.0 1647.0,1693.0 1617.0,1693.0 1617.0,1689.0 1626.0,1677.8 1617.0,1666.6" fill="#989800"/>
<polygon points="1650.4,1660.2 1680.4,1660.2 1680.4,1664.2 1671.4,1675.4 1680.4,1686.6 1680.4,1690.6 1650.4,1690.6 1650.4,1686.6 1659.4,1675.4 1650.4,1664.2" fill="#989800"/>
<polygon points="1683.9,1659.5 1713.9,1659.5 1713.9,1663.5 1704.9,1674.7 1713.9,1685.9 1713.9,1689.9 1683.9,1689.9 1683.9,1685.9 1692.9,1674.7 1683.9,1663.5" fill="#989800"/>
<polygon points="1717.3,1659.5 1747.3,1659.5 1747.3,1663.5 1738.3,1674.7 1747.3,1685.9 1747.3,1689.9 1717.3,1689.9 1717.3,1685.9 1726.3,1674.7 1717.3,1663.5" fill="#989800"/>
<polygon points="1750.8,1659.5 1780.8,1659.5 1780.8,1663.5 1771.8,1674.7 1780.8,1685.9 1780.8,1689.9 1750.8,1689.9 1750.8,1685.9 1759.8,1674.7 1750.8,1663.5" fill="#989800"/>
<polygon points="1784.3,1659.5 1814.3,1659.5 1814.3,1663.5 1805.3,1674.7 1814.3,1685.9 1814.3,1689.9 1784.3,1689.9 1784.3,1685.9 1793.3,1674.7 1784.3,1663.5" fill="#989800"/>
<polygon points="1817.7,1659.5 1847.7,1659.5 1847.7,1663.5 1838.7,1674.7 1847.7,1685.9 1847.7,1689.9 1817.7,1689.9 1817.7,1685.9 1826.7,1674.7 1817.7,1663.5" fill="#989800"/>
<polygon points="1851.2,1659.5 1881.2,1659.5 1881.2,1663.5 1872.2,1674.7 1881.2,1685.9 1881.2,1689.9 1851.2,1689.9 1851.2,1685.9 1860.2,1674.7 1851.2,1663.5" fill="#989800"/>
<polygon points="1884.6,1659.5 1914.6,1659.5 1914.6,1663.5 1905.6,1674.7 1914.6,1685.9 1914.6,1689.9 1884.6,1689.9 1884.6,1685.9 1893.6,1674.7 1884.6,1663.5" fill="#989800"/>
<path d="M1263.9,1809.6 L1297.4,1779.8 L1330.8,1751.9 L1364.3,1716.7 L1397.7,1689.0 L1431.2,1665.4 L1464.7,1646.6 L1498.1,1630.6 L1531.6,1616.1 L1565.0,1604.9 L1598.5,1599.7 L1632.0,1595.6 L1665.4,1591.9 L1698.9,1588.3 L1732.3,1586.7 L1765.8,1584.6 L1799.3,1582.9 L1832.7,1583.7 L1866.2,1584.6 L1899.6,1585.2" fill="none" stroke="#00cc00" stroke-width="4.8" stroke-linejoin="round"/>
<circle cx="1263.9" cy="1809.6" r="11.8" fill="#fff" stroke="#00cc00" stroke-width="5.4" stroke-linejoin="miter"/>
<circle cx="1297.4" cy="1779.8" r="11.8" fill="#fff" stroke="#00cc00" stroke-width="5.4" stroke-linejoin="miter"/>
<circle cx="1330.8" cy="1751.9" r="11.8" fill="#fff" stroke="#00cc00" stroke-width="5.4" stroke-linejoin="miter"/>
<circle cx="1364.3" cy="1716.7" r="11.8" fill="#fff" stroke="#00cc00" stroke-width="5.4" stroke-linejoin="miter"/>
<circle cx="1397.7" cy="1689.0" r="11.8" fill="#fff" stroke="#00cc00" stroke-width="5.4" stroke-linejoin="miter"/>
<circle cx="1431.2" cy="1665.4" r="11.8" fill="#fff" stroke="#00cc00" stroke-width="5.4" stroke-linejoin="miter"/>
<circle cx="1464.7" cy="1646.6" r="11.8" fill="#fff" stroke="#00cc00" stroke-width="5.4" stroke-linejoin="miter"/>
<circle cx="1498.1" cy="1630.6" r="11.8" fill="#fff" stroke="#00cc00" stroke-width="5.4" stroke-linejoin="miter"/>
<circle cx="1531.6" cy="1616.1" r="11.8" fill="#fff" stroke="#00cc00" stroke-width="5.4" stroke-linejoin="miter"/>
<circle cx="1565.0" cy="1604.9" r="11.8" fill="#fff" stroke="#00cc00" stroke-width="5.4" stroke-linejoin="miter"/>
<circle cx="1598.5" cy="1599.7" r="11.8" fill="#fff" stroke="#00cc00" stroke-width="5.4" stroke-linejoin="miter"/>
<circle cx="1632.0" cy="1595.6" r="11.8" fill="#fff" stroke="#00cc00" stroke-width="5.4" stroke-linejoin="miter"/>
<circle cx="1665.4" cy="1591.9" r="11.8" fill="#fff" stroke="#00cc00" stroke-width="5.4" stroke-linejoin="miter"/>
<circle cx="1698.9" cy="1588.3" r="11.8" fill="#fff" stroke="#00cc00" stroke-width="5.4" stroke-linejoin="miter"/>
<circle cx="1732.3" cy="1586.7" r="11.8" fill="#fff" stroke="#00cc00" stroke-width="5.4" stroke-linejoin="miter"/>
<circle cx="1765.8" cy="1584.6" r="11.8" fill="#fff" stroke="#00cc00" stroke-width="5.4" stroke-linejoin="miter"/>
<circle cx="1799.3" cy="1582.9" r="11.8" fill="#fff" stroke="#00cc00" stroke-width="5.4" stroke-linejoin="miter"/>
<circle cx="1832.7" cy="1583.7" r="11.8" fill="#fff" stroke="#00cc00" stroke-width="5.4" stroke-linejoin="miter"/>
<circle cx="1866.2" cy="1584.6" r="11.8" fill="#fff" stroke="#00cc00" stroke-width="5.4" stroke-linejoin="miter"/>
<circle cx="1899.6" cy="1585.2" r="11.8" fill="#fff" stroke="#00cc00" stroke-width="5.4" stroke-linejoin="miter"/>
<path d="M1263.9,1809.6 L1297.4,1772.4 L1330.8,1742.0 L1364.3,1698.7 L1397.7,1661.3 L1431.2,1624.4 L1464.7,1591.5 L1498.1,1566.4 L1531.6,1547.6 L1565.0,1529.0 L1598.5,1516.1 L1632.0,1507.0 L1665.4,1498.8 L1698.9,1492.7 L1732.3,1487.3 L1765.8,1483.6 L1799.3,1480.0 L1832.7,1478.5 L1866.2,1477.2 L1899.6,1476.9" fill="none" stroke="#169c50" stroke-width="4.8" stroke-linejoin="round"/>
<rect x="1253.0" y="1798.7" width="21.8" height="21.8" fill="#fff" stroke="#169c50" stroke-width="5.4" stroke-linejoin="miter"/>
<rect x="1286.5" y="1761.5" width="21.8" height="21.8" fill="#fff" stroke="#169c50" stroke-width="5.4" stroke-linejoin="miter"/>
<rect x="1319.9" y="1731.1" width="21.8" height="21.8" fill="#fff" stroke="#169c50" stroke-width="5.4" stroke-linejoin="miter"/>
<rect x="1353.4" y="1687.8" width="21.8" height="21.8" fill="#fff" stroke="#169c50" stroke-width="5.4" stroke-linejoin="miter"/>
<rect x="1386.8" y="1650.4" width="21.8" height="21.8" fill="#fff" stroke="#169c50" stroke-width="5.4" stroke-linejoin="miter"/>
<rect x="1420.3" y="1613.5" width="21.8" height="21.8" fill="#fff" stroke="#169c50" stroke-width="5.4" stroke-linejoin="miter"/>
<rect x="1453.8" y="1580.6" width="21.8" height="21.8" fill="#fff" stroke="#169c50" stroke-width="5.4" stroke-linejoin="miter"/>
<rect x="1487.2" y="1555.5" width="21.8" height="21.8" fill="#fff" stroke="#169c50" stroke-width="5.4" stroke-linejoin="miter"/>
<rect x="1520.7" y="1536.7" width="21.8" height="21.8" fill="#fff" stroke="#169c50" stroke-width="5.4" stroke-linejoin="miter"/>
<rect x="1554.1" y="1518.1" width="21.8" height="21.8" fill="#fff" stroke="#169c50" stroke-width="5.4" stroke-linejoin="miter"/>
<rect x="1587.6" y="1505.2" width="21.8" height="21.8" fill="#fff" stroke="#169c50" stroke-width="5.4" stroke-linejoin="miter"/>
<rect x="1621.1" y="1496.1" width="21.8" height="21.8" fill="#fff" stroke="#169c50" stroke-width="5.4" stroke-linejoin="miter"/>
<rect x="1654.5" y="1487.9" width="21.8" height="21.8" fill="#fff" stroke="#169c50" stroke-width="5.4" stroke-linejoin="miter"/>
<rect x="1688.0" y="1481.8" width="21.8" height="21.8" fill="#fff" stroke="#169c50" stroke-width="5.4" stroke-linejoin="miter"/>
<rect x="1721.4" y="1476.4" width="21.8" height="21.8" fill="#fff" stroke="#169c50" stroke-width="5.4" stroke-linejoin="miter"/>
<rect x="1754.9" y="1472.7" width="21.8" height="21.8" fill="#fff" stroke="#169c50" stroke-width="5.4" stroke-linejoin="miter"/>
<rect x="1788.4" y="1469.1" width="21.8" height="21.8" fill="#fff" stroke="#169c50" stroke-width="5.4" stroke-linejoin="miter"/>
<rect x="1821.8" y="1467.6" width="21.8" height="21.8" fill="#fff" stroke="#169c50" stroke-width="5.4" stroke-linejoin="miter"/>
<rect x="1855.3" y="1466.3" width="21.8" height="21.8" fill="#fff" stroke="#169c50" stroke-width="5.4" stroke-linejoin="miter"/>
<rect x="1888.7" y="1466.0" width="21.8" height="21.8" fill="#fff" stroke="#169c50" stroke-width="5.4" stroke-linejoin="miter"/>
<path d="M1263.9,1809.6 L1297.4,1766.8 L1330.8,1722.1 L1364.3,1679.3 L1397.7,1638.4 L1431.2,1599.3 L1464.7,1562.1 L1498.1,1528.6 L1531.6,1497.5 L1565.0,1470.9 L1598.5,1448.9 L1632.0,1430.1 L1665.4,1416.0 L1698.9,1405.0 L1732.3,1397.2 L1765.8,1390.9 L1799.3,1385.5 L1832.7,1383.1 L1866.2,1379.9 L1899.6,1376.7" fill="none" stroke="#40bfff" stroke-width="4.8" stroke-linejoin="round"/>
<polygon points="1263.9,1795.8 1275.7,1817.2 1252.1,1817.2" fill="#fff" stroke="#40bfff" stroke-width="5.4" stroke-linejoin="miter"/>
<polygon points="1297.4,1753.0 1309.2,1774.4 1285.6,1774.4" fill="#fff" stroke="#40bfff" stroke-width="5.4" stroke-linejoin="miter"/>
<polygon points="1330.8,1708.3 1342.6,1729.7 1319.0,1729.7" fill="#fff" stroke="#40bfff" stroke-width="5.4" stroke-linejoin="miter"/>
<polygon points="1364.3,1665.5 1376.1,1686.9 1352.5,1686.9" fill="#fff" stroke="#40bfff" stroke-width="5.4" stroke-linejoin="miter"/>
<polygon points="1397.7,1624.6 1409.5,1646.0 1385.9,1646.0" fill="#fff" stroke="#40bfff" stroke-width="5.4" stroke-linejoin="miter"/>
<polygon points="1431.2,1585.5 1443.0,1606.9 1419.4,1606.9" fill="#fff" stroke="#40bfff" stroke-width="5.4" stroke-linejoin="miter"/>
<polygon points="1464.7,1548.3 1476.5,1569.7 1452.9,1569.7" fill="#fff" stroke="#40bfff" stroke-width="5.4" stroke-linejoin="miter"/>
<polygon points="1498.1,1514.8 1509.9,1536.2 1486.3,1536.2" fill="#fff" stroke="#40bfff" stroke-width="5.4" stroke-linejoin="miter"/>
<polygon points="1531.6,1483.7 1543.4,1505.1 1519.8,1505.1" fill="#fff" stroke="#40bfff" stroke-width="5.4" stroke-linejoin="miter"/>
<polygon points="1565.0,1457.1 1576.8,1478.5 1553.2,1478.5" fill="#fff" stroke="#40bfff" stroke-width="5.4" stroke-linejoin="miter"/>
<polygon points="1598.5,1435.1 1610.3,1456.5 1586.7,1456.5" fill="#fff" stroke="#40bfff" stroke-width="5.4" stroke-linejoin="miter"/>
<polygon points="1632.0,1416.3 1643.8,1437.7 1620.2,1437.7" fill="#fff" stroke="#40bfff" stroke-width="5.4" stroke-linejoin="miter"/>
<polygon points="1665.4,1402.2 1677.2,1423.6 1653.6,1423.6" fill="#fff" stroke="#40bfff" stroke-width="5.4" stroke-linejoin="miter"/>
<polygon points="1698.9,1391.2 1710.7,1412.6 1687.1,1412.6" fill="#fff" stroke="#40bfff" stroke-width="5.4" stroke-linejoin="miter"/>
<polygon points="1732.3,1383.4 1744.1,1404.8 1720.5,1404.8" fill="#fff" stroke="#40bfff" stroke-width="5.4" stroke-linejoin="miter"/>
<polygon points="1765.8,1377.1 1777.6,1398.5 1754.0,1398.5" fill="#fff" stroke="#40bfff" stroke-width="5.4" stroke-linejoin="miter"/>
<polygon points="1799.3,1371.7 1811.1,1393.1 1787.5,1393.1" fill="#fff" stroke="#40bfff" stroke-width="5.4" stroke-linejoin="miter"/>
<polygon points="1832.7,1369.3 1844.5,1390.7 1820.9,1390.7" fill="#fff" stroke="#40bfff" stroke-width="5.4" stroke-linejoin="miter"/>
<polygon points="1866.2,1366.1 1878.0,1387.5 1854.4,1387.5" fill="#fff" stroke="#40bfff" stroke-width="5.4" stroke-linejoin="miter"/>
<polygon points="1899.6,1362.9 1911.4,1384.3 1887.8,1384.3" fill="#fff" stroke="#40bfff" stroke-width="5.4" stroke-linejoin="miter"/>
<path d="M1263.9,1811.5 L1297.4,1764.9 L1330.8,1719.3 L1364.3,1673.7 L1397.7,1630.9 L1431.2,1588.1 L1464.7,1547.2 L1498.1,1508.1 L1531.6,1468.5 L1565.0,1433.9 L1598.5,1407.3 L1632.0,1380.5 L1665.4,1356.1 L1698.9,1338.2 L1732.3,1324.6 L1765.8,1313.6 L1799.3,1305.3 L1832.7,1298.4 L1866.2,1292.6 L1899.6,1288.9" fill="none" stroke="#0033ff" stroke-width="4.8" stroke-linejoin="round"/>
<polygon points="1263.9,1795.8 1279.6,1811.5 1263.9,1827.2 1248.2,1811.5" fill="#fff" stroke="#0033ff" stroke-width="5.4" stroke-linejoin="miter"/>
<polygon points="1297.4,1749.2 1313.1,1764.9 1297.4,1780.6 1281.7,1764.9" fill="#fff" stroke="#0033ff" stroke-width="5.4" stroke-linejoin="miter"/>
<polygon points="1330.8,1703.6 1346.5,1719.3 1330.8,1735.0 1315.1,1719.3" fill="#fff" stroke="#0033ff" stroke-width="5.4" stroke-linejoin="miter"/>
<polygon points="1364.3,1658.0 1380.0,1673.7 1364.3,1689.4 1348.6,1673.7" fill="#fff" stroke="#0033ff" stroke-width="5.4" stroke-linejoin="miter"/>
<polygon points="1397.7,1615.2 1413.4,1630.9 1397.7,1646.6 1382.0,1630.9" fill="#fff" stroke="#0033ff" stroke-width="5.4" stroke-linejoin="miter"/>
<polygon points="1431.2,1572.4 1446.9,1588.1 1431.2,1603.8 1415.5,1588.1" fill="#fff" stroke="#0033ff" stroke-width="5.4" stroke-linejoin="miter"/>
<polygon points="1464.7,1531.5 1480.4,1547.2 1464.7,1562.9 1449.0,1547.2" fill="#fff" stroke="#0033ff" stroke-width="5.4" stroke-linejoin="miter"/>
<polygon points="1498.1,1492.4 1513.8,1508.1 1498.1,1523.8 1482.4,1508.1" fill="#fff" stroke="#0033ff" stroke-width="5.4" stroke-linejoin="miter"/>
<polygon points="1531.6,1452.8 1547.3,1468.5 1531.6,1484.2 1515.9,1468.5" fill="#fff" stroke="#0033ff" stroke-width="5.4" stroke-linejoin="miter"/>
<polygon points="1565.0,1418.2 1580.7,1433.9 1565.0,1449.6 1549.3,1433.9" fill="#fff" stroke="#0033ff" stroke-width="5.4" stroke-linejoin="miter"/>
<polygon points="1598.5,1391.6 1614.2,1407.3 1598.5,1423.0 1582.8,1407.3" fill="#fff" stroke="#0033ff" stroke-width="5.4" stroke-linejoin="miter"/>
<polygon points="1632.0,1364.8 1647.7,1380.5 1632.0,1396.2 1616.3,1380.5" fill="#fff" stroke="#0033ff" stroke-width="5.4" stroke-linejoin="miter"/>
<polygon points="1665.4,1340.4 1681.1,1356.1 1665.4,1371.8 1649.7,1356.1" fill="#fff" stroke="#0033ff" stroke-width="5.4" stroke-linejoin="miter"/>
<polygon points="1698.9,1322.5 1714.6,1338.2 1698.9,1353.9 1683.2,1338.2" fill="#fff" stroke="#0033ff" stroke-width="5.4" stroke-linejoin="miter"/>
<polygon points="1732.3,1308.9 1748.0,1324.6 1732.3,1340.3 1716.6,1324.6" fill="#fff" stroke="#0033ff" stroke-width="5.4" stroke-linejoin="miter"/>
<polygon points="1765.8,1297.9 1781.5,1313.6 1765.8,1329.3 1750.1,1313.6" fill="#fff" stroke="#0033ff" stroke-width="5.4" stroke-linejoin="miter"/>
<polygon points="1799.3,1289.6 1815.0,1305.3 1799.3,1321.0 1783.6,1305.3" fill="#fff" stroke="#0033ff" stroke-width="5.4" stroke-linejoin="miter"/>
<polygon points="1832.7,1282.7 1848.4,1298.4 1832.7,1314.1 1817.0,1298.4" fill="#fff" stroke="#0033ff" stroke-width="5.4" stroke-linejoin="miter"/>
<polygon points="1866.2,1276.9 1881.9,1292.6 1866.2,1308.3 1850.5,1292.6" fill="#fff" stroke="#0033ff" stroke-width="5.4" stroke-linejoin="miter"/>
<polygon points="1899.6,1273.2 1915.3,1288.9 1899.6,1304.6 1883.9,1288.9" fill="#fff" stroke="#0033ff" stroke-width="5.4" stroke-linejoin="miter"/>
<path d="M1263.9,1813.9 L1297.4,1765.7 L1330.8,1719.2 L1364.3,1672.6 L1397.7,1627.2 L1431.2,1584.4 L1464.7,1541.6 L1498.1,1500.7 L1531.6,1461.6 L1565.0,1428.1 L1598.5,1389.9 L1632.0,1356.4 L1665.4,1322.9 L1698.9,1296.9 L1732.3,1278.3 L1765.8,1261.5 L1799.3,1246.6 L1832.7,1235.5 L1866.2,1226.2 L1899.6,1219.1" fill="none" stroke="#9a35ea" stroke-width="4.8" stroke-linejoin="round"/>
<polygon points="1253.1,1801.5 1274.7,1801.5 1253.1,1826.3 1274.7,1826.3" fill="#fff" stroke="#9a35ea" stroke-width="5.4" stroke-linejoin="miter" stroke-miterlimit="3"/>
<polygon points="1286.6,1753.3 1308.2,1753.3 1286.6,1778.1 1308.2,1778.1" fill="#fff" stroke="#9a35ea" stroke-width="5.4" stroke-linejoin="miter" stroke-miterlimit="3"/>
<polygon points="1320.0,1706.8 1341.6,1706.8 1320.0,1731.6 1341.6,1731.6" fill="#fff" stroke="#9a35ea" stroke-width="5.4" stroke-linejoin="miter" stroke-miterlimit="3"/>
<polygon points="1353.5,1660.2 1375.1,1660.2 1353.5,1685.0 1375.1,1685.0" fill="#fff" stroke="#9a35ea" stroke-width="5.4" stroke-linejoin="miter" stroke-miterlimit="3"/>
<polygon points="1386.9,1614.8 1408.5,1614.8 1386.9,1639.6 1408.5,1639.6" fill="#fff" stroke="#9a35ea" stroke-width="5.4" stroke-linejoin="miter" stroke-miterlimit="3"/>
<polygon points="1420.4,1572.0 1442.0,1572.0 1420.4,1596.8 1442.0,1596.8" fill="#fff" stroke="#9a35ea" stroke-width="5.4" stroke-linejoin="miter" stroke-miterlimit="3"/>
<polygon points="1453.9,1529.2 1475.5,1529.2 1453.9,1554.0 1475.5,1554.0" fill="#fff" stroke="#9a35ea" stroke-width="5.4" stroke-linejoin="miter" stroke-miterlimit="3"/>
<polygon points="1487.3,1488.3 1508.9,1488.3 1487.3,1513.1 1508.9,1513.1" fill="#fff" stroke="#9a35ea" stroke-width="5.4" stroke-linejoin="miter" stroke-miterlimit="3"/>
<polygon points="1520.8,1449.2 1542.4,1449.2 1520.8,1474.0 1542.4,1474.0" fill="#fff" stroke="#9a35ea" stroke-width="5.4" stroke-linejoin="miter" stroke-miterlimit="3"/>
<polygon points="1554.2,1415.7 1575.8,1415.7 1554.2,1440.5 1575.8,1440.5" fill="#fff" stroke="#9a35ea" stroke-width="5.4" stroke-linejoin="miter" stroke-miterlimit="3"/>
<polygon points="1587.7,1377.5 1609.3,1377.5 1587.7,1402.3 1609.3,1402.3" fill="#fff" stroke="#9a35ea" stroke-width="5.4" stroke-linejoin="miter" stroke-miterlimit="3"/>
<polygon points="1621.2,1344.0 1642.8,1344.0 1621.2,1368.8 1642.8,1368.8" fill="#fff" stroke="#9a35ea" stroke-width="5.4" stroke-linejoin="miter" stroke-miterlimit="3"/>
<polygon points="1654.6,1310.5 1676.2,1310.5 1654.6,1335.3 1676.2,1335.3" fill="#fff" stroke="#9a35ea" stroke-width="5.4" stroke-linejoin="miter" stroke-miterlimit="3"/>
<polygon points="1688.1,1284.5 1709.7,1284.5 1688.1,1309.3 1709.7,1309.3" fill="#fff" stroke="#9a35ea" stroke-width="5.4" stroke-linejoin="miter" stroke-miterlimit="3"/>
<polygon points="1721.5,1265.9 1743.1,1265.9 1721.5,1290.7 1743.1,1290.7" fill="#fff" stroke="#9a35ea" stroke-width="5.4" stroke-linejoin="miter" stroke-miterlimit="3"/>
<polygon points="1755.0,1249.1 1776.6,1249.1 1755.0,1273.9 1776.6,1273.9" fill="#fff" stroke="#9a35ea" stroke-width="5.4" stroke-linejoin="miter" stroke-miterlimit="3"/>
<polygon points="1788.5,1234.2 1810.1,1234.2 1788.5,1259.0 1810.1,1259.0" fill="#fff" stroke="#9a35ea" stroke-width="5.4" stroke-linejoin="miter" stroke-miterlimit="3"/>
<polygon points="1821.9,1223.1 1843.5,1223.1 1821.9,1247.9 1843.5,1247.9" fill="#fff" stroke="#9a35ea" stroke-width="5.4" stroke-linejoin="miter" stroke-miterlimit="3"/>
<polygon points="1855.4,1213.8 1877.0,1213.8 1855.4,1238.6 1877.0,1238.6" fill="#fff" stroke="#9a35ea" stroke-width="5.4" stroke-linejoin="miter" stroke-miterlimit="3"/>
<polygon points="1888.8,1206.7 1910.4,1206.7 1888.8,1231.5 1910.4,1231.5" fill="#fff" stroke="#9a35ea" stroke-width="5.4" stroke-linejoin="miter" stroke-miterlimit="3"/>
<path d="M1263.9,1810.0 L1297.4,1802.5 L1330.8,1792.9 L1364.3,1784.7 L1397.7,1780.6 L1431.2,1776.5 L1464.7,1774.8 L1498.1,1773.1 L1531.6,1772.4 L1565.0,1772.0 L1598.5,1771.8 L1632.0,1771.8 L1665.4,1771.8 L1698.9,1771.8 L1732.3,1771.8 L1765.8,1771.8 L1799.3,1771.8 L1832.7,1771.8 L1866.2,1771.8 L1899.6,1771.8" fill="none" stroke="#ff0000" stroke-width="4.8" stroke-linejoin="round"/>
<polygon points="1263.9,1790.5 1282.1,1821.5 1245.7,1821.5" fill="#ff0000"/>
<polygon points="1297.4,1783.0 1315.6,1814.0 1279.2,1814.0" fill="#ff0000"/>
<polygon points="1330.8,1773.4 1349.0,1804.4 1312.6,1804.4" fill="#ff0000"/>
<polygon points="1364.3,1765.2 1382.5,1796.2 1346.1,1796.2" fill="#ff0000"/>
<polygon points="1397.7,1761.1 1415.9,1792.1 1379.5,1792.1" fill="#ff0000"/>
<polygon points="1431.2,1757.0 1449.4,1788.0 1413.0,1788.0" fill="#ff0000"/>
<polygon points="1464.7,1755.3 1482.9,1786.3 1446.5,1786.3" fill="#ff0000"/>
<polygon points="1498.1,1753.6 1516.3,1784.6 1479.9,1784.6" fill="#ff0000"/>
<polygon points="1531.6,1752.9 1549.8,1783.9 1513.4,1783.9" fill="#ff0000"/>
<polygon points="1565.0,1752.5 1583.2,1783.5 1546.8,1783.5" fill="#ff0000"/>
<polygon points="1598.5,1752.3 1616.7,1783.3 1580.3,1783.3" fill="#ff0000"/>
<polygon points="1632.0,1752.3 1650.2,1783.3 1613.8,1783.3" fill="#ff0000"/>
<polygon points="1665.4,1752.3 1683.6,1783.3 1647.2,1783.3" fill="#ff0000"/>
<polygon points="1698.9,1752.3 1717.1,1783.3 1680.7,1783.3" fill="#ff0000"/>
<polygon points="1732.3,1752.3 1750.5,1783.3 1714.1,1783.3" fill="#ff0000"/>
<polygon points="1765.8,1752.3 1784.0,1783.3 1747.6,1783.3" fill="#ff0000"/>
<polygon points="1799.3,1752.3 1817.5,1783.3 1781.1,1783.3" fill="#ff0000"/>
<polygon points="1832.7,1752.3 1850.9,1783.3 1814.5,1783.3" fill="#ff0000"/>
<polygon points="1866.2,1752.3 1884.4,1783.3 1848.0,1783.3" fill="#ff0000"/>
<polygon points="1899.6,1752.3 1917.8,1783.3 1881.4,1783.3" fill="#ff0000"/><text font-family="'Liberation Sans', sans-serif" font-size="137"><tspan x="1262.4" y="1275.3">(</tspan><tspan x="1306.5" y="1274.5" font-size="133" font-weight="bold">d</tspan><tspan x="1393.1" y="1275.3">)</tspan></text></g>
<g id="panel-e"><path d="M237.9,2750.5v-9.5M237.9,2051.4v9.5M271.4,2750.5v-19.5M271.4,2051.4v19.5M304.9,2750.5v-9.5M304.9,2051.4v9.5M338.3,2750.5v-9.5M338.3,2051.4v9.5M371.8,2750.5v-9.5M371.8,2051.4v9.5M405.3,2750.5v-9.5M405.3,2051.4v9.5M438.8,2750.5v-19.5M438.8,2051.4v19.5M472.2,2750.5v-9.5M472.2,2051.4v9.5M505.7,2750.5v-9.5M505.7,2051.4v9.5M539.2,2750.5v-9.5M539.2,2051.4v9.5M572.6,2750.5v-9.5M572.6,2051.4v9.5M606.1,2750.5v-19.5M606.1,2051.4v19.5M639.6,2750.5v-9.5M639.6,2051.4v9.5M673.0,2750.5v-9.5M673.0,2051.4v9.5M706.5,2750.5v-9.5M706.5,2051.4v9.5M740.0,2750.5v-9.5M740.0,2051.4v9.5M773.4,2750.5v-19.5M773.4,2051.4v19.5M806.9,2750.5v-9.5M806.9,2051.4v9.5M840.4,2750.5v-9.5M840.4,2051.4v9.5M873.9,2750.5v-9.5M873.9,2051.4v9.5M907.3,2750.5v-9.5M907.3,2051.4v9.5M940.8,2750.5v-19.5M940.8,2051.4v19.5M974.3,2750.5v-9.5M974.3,2051.4v9.5M218.6,2719.7h19.5M991.7,2719.7h-19.5M218.6,2691.4h10.4M991.7,2691.4h-10.4M218.6,2663.1h10.4M991.7,2663.1h-10.4M218.6,2634.9h10.4M991.7,2634.9h-10.4M218.6,2606.6h10.4M991.7,2606.6h-10.4M218.6,2578.3h19.5M991.7,2578.3h-19.5M218.6,2550.0h10.4M991.7,2550.0h-10.4M218.6,2521.7h10.4M991.7,2521.7h-10.4M218.6,2493.5h10.4M991.7,2493.5h-10.4M218.6,2465.2h10.4M991.7,2465.2h-10.4M218.6,2436.9h19.5M991.7,2436.9h-19.5M218.6,2408.6h10.4M991.7,2408.6h-10.4M218.6,2380.3h10.4M991.7,2380.3h-10.4M218.6,2352.1h10.4M991.7,2352.1h-10.4M218.6,2323.8h10.4M991.7,2323.8h-10.4M218.6,2295.5h19.5M991.7,2295.5h-19.5M218.6,2267.2h10.4M991.7,2267.2h-10.4M218.6,2238.9h10.4M991.7,2238.9h-10.4M218.6,2210.7h10.4M991.7,2210.7h-10.4M218.6,2182.4h10.4M991.7,2182.4h-10.4M218.6,2154.1h19.5M991.7,2154.1h-19.5M218.6,2125.8h10.4M991.7,2125.8h-10.4M218.6,2097.5h10.4M991.7,2097.5h-10.4M218.6,2069.3h10.4M991.7,2069.3h-10.4" stroke="#505050" stroke-width="3.4" fill="none"/>
<rect x="218.6" y="2051.4" width="773.1" height="699.1" fill="none" stroke="#7c7c7c" stroke-width="4.8"/>
<text x="271.4" y="2816.4" font-family="'Liberation Sans', sans-serif" font-size="59" text-anchor="middle" fill="#141414" stroke="#141414" stroke-width="1.1">0.0</text>
<text x="438.8" y="2816.4" font-family="'Liberation Sans', sans-serif" font-size="59" text-anchor="middle" fill="#141414" stroke="#141414" stroke-width="1.1">-0.5</text>
<text x="606.1" y="2816.4" font-family="'Liberation Sans', sans-serif" font-size="59" text-anchor="middle" fill="#141414" stroke="#141414" stroke-width="1.1">-1.0</text>
<text x="773.4" y="2816.4" font-family="'Liberation Sans', sans-serif" font-size="59" text-anchor="middle" fill="#141414" stroke="#141414" stroke-width="1.1">-1.5</text>
<text x="940.8" y="2816.4" font-family="'Liberation Sans', sans-serif" font-size="59" text-anchor="middle" fill="#141414" stroke="#141414" stroke-width="1.1">-2.0</text>
<text x="208.1" y="2740.2" font-family="'Liberation Sans', sans-serif" font-size="59" text-anchor="end" fill="#141414" stroke="#141414" stroke-width="1.1">0</text>
<text x="208.1" y="2598.8" font-family="'Liberation Sans', sans-serif" font-size="59" text-anchor="end" fill="#141414" stroke="#141414" stroke-width="1.1">-5</text>
<text x="208.1" y="2457.4" font-family="'Liberation Sans', sans-serif" font-size="59" text-anchor="end" fill="#141414" stroke="#141414" stroke-width="1.1">-10</text>
<text x="208.1" y="2316.0" font-family="'Liberation Sans', sans-serif" font-size="59" text-anchor="end" fill="#141414" stroke="#141414" stroke-width="1.1">-15</text>
<text x="208.1" y="2174.6" font-family="'Liberation Sans', sans-serif" font-size="59" text-anchor="end" fill="#141414" stroke="#141414" stroke-width="1.1">-20</text>
<text x="477.5" y="2896.4" font-family="'Liberation Sans', sans-serif" font-size="68" fill="#141414" stroke="#141414" stroke-width="1.1">V<tspan font-size="48" dy="16.5">drain</tspan><tspan dy="-16.5"> (V)</tspan></text>
<text transform="translate(104.0,2539.0) rotate(-90)" font-family="'Liberation Sans', sans-serif" font-size="68" fill="#141414" stroke="#141414" stroke-width="1.1">I<tspan font-size="48" dy="16.8">drain</tspan><tspan dy="-16.8"> (µA)</tspan></text><path d="M271.4,2719.7 L304.9,2693.0 L338.3,2665.5 L371.8,2637.3 L405.3,2608.5 L438.8,2579.1 L472.2,2549.1 L505.7,2518.6 L539.2,2487.6 L572.6,2456.0 L606.1,2424.0 L639.6,2391.4 L673.0,2358.3 L706.5,2324.7 L740.0,2290.5 L773.4,2255.8 L806.9,2220.5 L840.4,2184.6 L873.9,2148.1 L907.3,2111.0" fill="none" stroke="#000000" stroke-width="4.8" stroke-linejoin="round"/>
<circle cx="271.4" cy="2719.7" r="15.0" fill="#000000"/>
<circle cx="304.9" cy="2693.0" r="15.0" fill="#000000"/>
<circle cx="338.3" cy="2665.5" r="15.0" fill="#000000"/>
<circle cx="371.8" cy="2637.3" r="15.0" fill="#000000"/>
<circle cx="405.3" cy="2608.5" r="15.0" fill="#000000"/>
<circle cx="438.8" cy="2579.1" r="15.0" fill="#000000"/>
<circle cx="472.2" cy="2549.1" r="15.0" fill="#000000"/>
<circle cx="505.7" cy="2518.6" r="15.0" fill="#000000"/>
<circle cx="539.2" cy="2487.6" r="15.0" fill="#000000"/>
<circle cx="572.6" cy="2456.0" r="15.0" fill="#000000"/>
<circle cx="606.1" cy="2424.0" r="15.0" fill="#000000"/>
<circle cx="639.6" cy="2391.4" r="15.0" fill="#000000"/>
<circle cx="673.0" cy="2358.3" r="15.0" fill="#000000"/>
<circle cx="706.5" cy="2324.7" r="15.0" fill="#000000"/>
<circle cx="740.0" cy="2290.5" r="15.0" fill="#000000"/>
<circle cx="773.4" cy="2255.8" r="15.0" fill="#000000"/>
<circle cx="806.9" cy="2220.5" r="15.0" fill="#000000"/>
<circle cx="840.4" cy="2184.6" r="15.0" fill="#000000"/>
<circle cx="873.9" cy="2148.1" r="15.0" fill="#000000"/>
<circle cx="907.3" cy="2111.0" r="15.0" fill="#000000"/>
<path d="M271.4,2719.7 L304.9,2693.8 L338.3,2667.1 L371.8,2639.7 L405.3,2611.7 L438.8,2583.1 L472.2,2553.8 L505.7,2524.0 L539.2,2493.6 L572.6,2462.7 L606.1,2431.2 L639.6,2399.1 L673.0,2366.5 L706.5,2333.3 L740.0,2299.5 L773.4,2265.2 L806.9,2230.2 L840.4,2194.6 L873.9,2158.4 L907.3,2121.6" fill="none" stroke="#787878" stroke-width="4.8" stroke-linejoin="round"/>
<rect x="256.7" y="2705.0" width="29.4" height="29.4" fill="#787878"/>
<rect x="290.2" y="2679.1" width="29.4" height="29.4" fill="#787878"/>
<rect x="323.6" y="2652.4" width="29.4" height="29.4" fill="#787878"/>
<rect x="357.1" y="2625.0" width="29.4" height="29.4" fill="#787878"/>
<rect x="390.6" y="2597.0" width="29.4" height="29.4" fill="#787878"/>
<rect x="424.1" y="2568.4" width="29.4" height="29.4" fill="#787878"/>
<rect x="457.5" y="2539.1" width="29.4" height="29.4" fill="#787878"/>
<rect x="491.0" y="2509.3" width="29.4" height="29.4" fill="#787878"/>
<rect x="524.5" y="2478.9" width="29.4" height="29.4" fill="#787878"/>
<rect x="557.9" y="2448.0" width="29.4" height="29.4" fill="#787878"/>
<rect x="591.4" y="2416.5" width="29.4" height="29.4" fill="#787878"/>
<rect x="624.9" y="2384.4" width="29.4" height="29.4" fill="#787878"/>
<rect x="658.3" y="2351.8" width="29.4" height="29.4" fill="#787878"/>
<rect x="691.8" y="2318.6" width="29.4" height="29.4" fill="#787878"/>
<rect x="725.3" y="2284.8" width="29.4" height="29.4" fill="#787878"/>
<rect x="758.7" y="2250.5" width="29.4" height="29.4" fill="#787878"/>
<rect x="792.2" y="2215.5" width="29.4" height="29.4" fill="#787878"/>
<rect x="825.7" y="2179.9" width="29.4" height="29.4" fill="#787878"/>
<rect x="859.2" y="2143.7" width="29.4" height="29.4" fill="#787878"/>
<rect x="892.6" y="2106.9" width="29.4" height="29.4" fill="#787878"/>
<path d="M271.4,2719.7 L304.9,2694.5 L338.3,2668.5 L371.8,2641.8 L405.3,2614.5 L438.8,2586.5 L472.2,2557.9 L505.7,2528.7 L539.2,2498.9 L572.6,2468.5 L606.1,2437.4 L639.6,2405.8 L673.0,2373.6 L706.5,2340.8 L740.0,2307.4 L773.4,2273.3 L806.9,2238.6 L840.4,2203.3 L873.9,2167.4 L907.3,2130.7" fill="none" stroke="#ff0000" stroke-width="4.8" stroke-linejoin="round"/>
<polygon points="271.4,2700.2 289.6,2731.2 253.2,2731.2" fill="#ff0000"/>
<polygon points="304.9,2675.0 323.1,2706.0 286.7,2706.0" fill="#ff0000"/>
<polygon points="338.3,2649.0 356.5,2680.0 320.1,2680.0" fill="#ff0000"/>
<polygon points="371.8,2622.3 390.0,2653.3 353.6,2653.3" fill="#ff0000"/>
<polygon points="405.3,2595.0 423.5,2626.0 387.1,2626.0" fill="#ff0000"/>
<polygon points="438.8,2567.0 456.9,2598.0 420.6,2598.0" fill="#ff0000"/>
<polygon points="472.2,2538.4 490.4,2569.4 454.0,2569.4" fill="#ff0000"/>
<polygon points="505.7,2509.2 523.9,2540.2 487.5,2540.2" fill="#ff0000"/>
<polygon points="539.2,2479.4 557.4,2510.4 521.0,2510.4" fill="#ff0000"/>
<polygon points="572.6,2449.0 590.8,2480.0 554.4,2480.0" fill="#ff0000"/>
<polygon points="606.1,2417.9 624.3,2448.9 587.9,2448.9" fill="#ff0000"/>
<polygon points="639.6,2386.3 657.8,2417.3 621.4,2417.3" fill="#ff0000"/>
<polygon points="673.0,2354.1 691.2,2385.1 654.8,2385.1" fill="#ff0000"/>
<polygon points="706.5,2321.3 724.7,2352.3 688.3,2352.3" fill="#ff0000"/>
<polygon points="740.0,2287.9 758.2,2318.9 721.8,2318.9" fill="#ff0000"/>
<polygon points="773.4,2253.8 791.6,2284.8 755.2,2284.8" fill="#ff0000"/>
<polygon points="806.9,2219.1 825.1,2250.1 788.7,2250.1" fill="#ff0000"/>
<polygon points="840.4,2183.8 858.6,2214.8 822.2,2214.8" fill="#ff0000"/>
<polygon points="873.9,2147.9 892.1,2178.9 855.7,2178.9" fill="#ff0000"/>
<polygon points="907.3,2111.2 925.5,2142.2 889.1,2142.2" fill="#ff0000"/>
<path d="M271.4,2719.7 L304.9,2694.9 L338.3,2669.4 L371.8,2643.2 L405.3,2616.3 L438.8,2588.8 L472.2,2560.6 L505.7,2531.7 L539.2,2502.3 L572.6,2472.2 L606.1,2441.5 L639.6,2410.2 L673.0,2378.3 L706.5,2345.7 L740.0,2312.5 L773.4,2278.6 L806.9,2244.1 L840.4,2209.0 L873.9,2173.2 L907.3,2136.7" fill="none" stroke="#ff7f40" stroke-width="4.8" stroke-linejoin="round"/>
<polygon points="271.4,2698.7 292.4,2719.7 271.4,2740.7 250.4,2719.7" fill="#ff7f40"/>
<polygon points="304.9,2673.9 325.9,2694.9 304.9,2715.9 283.9,2694.9" fill="#ff7f40"/>
<polygon points="338.3,2648.4 359.3,2669.4 338.3,2690.4 317.3,2669.4" fill="#ff7f40"/>
<polygon points="371.8,2622.2 392.8,2643.2 371.8,2664.2 350.8,2643.2" fill="#ff7f40"/>
<polygon points="405.3,2595.3 426.3,2616.3 405.3,2637.3 384.3,2616.3" fill="#ff7f40"/>
<polygon points="438.8,2567.8 459.8,2588.8 438.8,2609.8 417.8,2588.8" fill="#ff7f40"/>
<polygon points="472.2,2539.6 493.2,2560.6 472.2,2581.6 451.2,2560.6" fill="#ff7f40"/>
<polygon points="505.7,2510.7 526.7,2531.7 505.7,2552.7 484.7,2531.7" fill="#ff7f40"/>
<polygon points="539.2,2481.3 560.2,2502.3 539.2,2523.3 518.2,2502.3" fill="#ff7f40"/>
<polygon points="572.6,2451.2 593.6,2472.2 572.6,2493.2 551.6,2472.2" fill="#ff7f40"/>
<polygon points="606.1,2420.5 627.1,2441.5 606.1,2462.5 585.1,2441.5" fill="#ff7f40"/>
<polygon points="639.6,2389.2 660.6,2410.2 639.6,2431.2 618.6,2410.2" fill="#ff7f40"/>
<polygon points="673.0,2357.3 694.0,2378.3 673.0,2399.3 652.0,2378.3" fill="#ff7f40"/>
<polygon points="706.5,2324.7 727.5,2345.7 706.5,2366.7 685.5,2345.7" fill="#ff7f40"/>
<polygon points="740.0,2291.5 761.0,2312.5 740.0,2333.5 719.0,2312.5" fill="#ff7f40"/>
<polygon points="773.4,2257.6 794.4,2278.6 773.4,2299.6 752.4,2278.6" fill="#ff7f40"/>
<polygon points="806.9,2223.1 827.9,2244.1 806.9,2265.1 785.9,2244.1" fill="#ff7f40"/>
<polygon points="840.4,2188.0 861.4,2209.0 840.4,2230.0 819.4,2209.0" fill="#ff7f40"/>
<polygon points="873.9,2152.2 894.9,2173.2 873.9,2194.2 852.9,2173.2" fill="#ff7f40"/>
<polygon points="907.3,2115.7 928.3,2136.7 907.3,2157.7 886.3,2136.7" fill="#ff7f40"/>
<path d="M271.4,2719.7 L304.9,2695.4 L338.3,2670.5 L371.8,2644.8 L405.3,2618.4 L438.8,2591.3 L472.2,2563.6 L505.7,2535.2 L539.2,2506.2 L572.6,2476.5 L606.1,2446.2 L639.6,2415.2 L673.0,2383.6 L706.5,2351.3 L740.0,2318.4 L773.4,2284.7 L806.9,2250.5 L840.4,2215.5 L873.9,2179.9 L907.3,2143.6" fill="none" stroke="#989800" stroke-width="4.8" stroke-linejoin="round"/>
<polygon points="256.4,2704.5 286.4,2704.5 286.4,2708.5 277.4,2719.7 286.4,2730.9 286.4,2734.9 256.4,2734.9 256.4,2730.9 265.4,2719.7 256.4,2708.5" fill="#989800"/>
<polygon points="289.9,2680.2 319.9,2680.2 319.9,2684.2 310.9,2695.4 319.9,2706.6 319.9,2710.6 289.9,2710.6 289.9,2706.6 298.9,2695.4 289.9,2684.2" fill="#989800"/>
<polygon points="323.3,2655.3 353.3,2655.3 353.3,2659.3 344.3,2670.5 353.3,2681.7 353.3,2685.7 323.3,2685.7 323.3,2681.7 332.3,2670.5 323.3,2659.3" fill="#989800"/>
<polygon points="356.8,2629.6 386.8,2629.6 386.8,2633.6 377.8,2644.8 386.8,2656.0 386.8,2660.0 356.8,2660.0 356.8,2656.0 365.8,2644.8 356.8,2633.6" fill="#989800"/>
<polygon points="390.3,2603.2 420.3,2603.2 420.3,2607.2 411.3,2618.4 420.3,2629.6 420.3,2633.6 390.3,2633.6 390.3,2629.6 399.3,2618.4 390.3,2607.2" fill="#989800"/>
<polygon points="423.8,2576.1 453.8,2576.1 453.8,2580.1 444.8,2591.3 453.8,2602.5 453.8,2606.5 423.8,2606.5 423.8,2602.5 432.8,2591.3 423.8,2580.1" fill="#989800"/>
<polygon points="457.2,2548.4 487.2,2548.4 487.2,2552.4 478.2,2563.6 487.2,2574.8 487.2,2578.8 457.2,2578.8 457.2,2574.8 466.2,2563.6 457.2,2552.4" fill="#989800"/>
<polygon points="490.7,2520.0 520.7,2520.0 520.7,2524.0 511.7,2535.2 520.7,2546.4 520.7,2550.4 490.7,2550.4 490.7,2546.4 499.7,2535.2 490.7,2524.0" fill="#989800"/>
<polygon points="524.2,2491.0 554.2,2491.0 554.2,2495.0 545.2,2506.2 554.2,2517.4 554.2,2521.4 524.2,2521.4 524.2,2517.4 533.2,2506.2 524.2,2495.0" fill="#989800"/>
<polygon points="557.6,2461.3 587.6,2461.3 587.6,2465.3 578.6,2476.5 587.6,2487.7 587.6,2491.7 557.6,2491.7 557.6,2487.7 566.6,2476.5 557.6,2465.3" fill="#989800"/>
<polygon points="591.1,2431.0 621.1,2431.0 621.1,2435.0 612.1,2446.2 621.1,2457.4 621.1,2461.4 591.1,2461.4 591.1,2457.4 600.1,2446.2 591.1,2435.0" fill="#989800"/>
<polygon points="624.6,2400.0 654.6,2400.0 654.6,2404.0 645.6,2415.2 654.6,2426.4 654.6,2430.4 624.6,2430.4 624.6,2426.4 633.6,2415.2 624.6,2404.0" fill="#989800"/>
<polygon points="658.0,2368.4 688.0,2368.4 688.0,2372.4 679.0,2383.6 688.0,2394.8 688.0,2398.8 658.0,2398.8 658.0,2394.8 667.0,2383.6 658.0,2372.4" fill="#989800"/>
<polygon points="691.5,2336.1 721.5,2336.1 721.5,2340.1 712.5,2351.3 721.5,2362.5 721.5,2366.5 691.5,2366.5 691.5,2362.5 700.5,2351.3 691.5,2340.1" fill="#989800"/>
<polygon points="725.0,2303.2 755.0,2303.2 755.0,2307.2 746.0,2318.4 755.0,2329.6 755.0,2333.6 725.0,2333.6 725.0,2329.6 734.0,2318.4 725.0,2307.2" fill="#989800"/>
<polygon points="758.4,2269.5 788.4,2269.5 788.4,2273.5 779.4,2284.7 788.4,2295.9 788.4,2299.9 758.4,2299.9 758.4,2295.9 767.4,2284.7 758.4,2273.5" fill="#989800"/>
<polygon points="791.9,2235.3 821.9,2235.3 821.9,2239.3 812.9,2250.5 821.9,2261.7 821.9,2265.7 791.9,2265.7 791.9,2261.7 800.9,2250.5 791.9,2239.3" fill="#989800"/>
<polygon points="825.4,2200.3 855.4,2200.3 855.4,2204.3 846.4,2215.5 855.4,2226.7 855.4,2230.7 825.4,2230.7 825.4,2226.7 834.4,2215.5 825.4,2204.3" fill="#989800"/>
<polygon points="858.9,2164.7 888.9,2164.7 888.9,2168.7 879.9,2179.9 888.9,2191.1 888.9,2195.1 858.9,2195.1 858.9,2191.1 867.9,2179.9 858.9,2168.7" fill="#989800"/>
<polygon points="892.3,2128.4 922.3,2128.4 922.3,2132.4 913.3,2143.6 922.3,2154.8 922.3,2158.8 892.3,2158.8 892.3,2154.8 901.3,2143.6 892.3,2132.4" fill="#989800"/>
<path d="M271.4,2719.7 L304.9,2695.6 L338.3,2670.8 L371.8,2645.3 L405.3,2619.1 L438.8,2592.2 L472.2,2564.6 L505.7,2536.4 L539.2,2507.5 L572.6,2478.0 L606.1,2447.8 L639.6,2416.9 L673.0,2385.4 L706.5,2353.2 L740.0,2320.3 L773.4,2286.8 L806.9,2252.6 L840.4,2217.7 L873.9,2182.1 L907.3,2145.9" fill="none" stroke="#00cc00" stroke-width="4.8" stroke-linejoin="round"/>
<circle cx="271.4" cy="2719.7" r="11.8" fill="#fff" stroke="#00cc00" stroke-width="5.4" stroke-linejoin="miter"/>
<circle cx="304.9" cy="2695.6" r="11.8" fill="#fff" stroke="#00cc00" stroke-width="5.4" stroke-linejoin="miter"/>
<circle cx="338.3" cy="2670.8" r="11.8" fill="#fff" stroke="#00cc00" stroke-width="5.4" stroke-linejoin="miter"/>
<circle cx="371.8" cy="2645.3" r="11.8" fill="#fff" stroke="#00cc00" stroke-width="5.4" stroke-linejoin="miter"/>
<circle cx="405.3" cy="2619.1" r="11.8" fill="#fff" stroke="#00cc00" stroke-width="5.4" stroke-linejoin="miter"/>
<circle cx="438.8" cy="2592.2" r="11.8" fill="#fff" stroke="#00cc00" stroke-width="5.4" stroke-linejoin="miter"/>
<circle cx="472.2" cy="2564.6" r="11.8" fill="#fff" stroke="#00cc00" stroke-width="5.4" stroke-linejoin="miter"/>
<circle cx="505.7" cy="2536.4" r="11.8" fill="#fff" stroke="#00cc00" stroke-width="5.4" stroke-linejoin="miter"/>
<circle cx="539.2" cy="2507.5" r="11.8" fill="#fff" stroke="#00cc00" stroke-width="5.4" stroke-linejoin="miter"/>
<circle cx="572.6" cy="2478.0" r="11.8" fill="#fff" stroke="#00cc00" stroke-width="5.4" stroke-linejoin="miter"/>
<circle cx="606.1" cy="2447.8" r="11.8" fill="#fff" stroke="#00cc00" stroke-width="5.4" stroke-linejoin="miter"/>
<circle cx="639.6" cy="2416.9" r="11.8" fill="#fff" stroke="#00cc00" stroke-width="5.4" stroke-linejoin="miter"/>
<circle cx="673.0" cy="2385.4" r="11.8" fill="#fff" stroke="#00cc00" stroke-width="5.4" stroke-linejoin="miter"/>
<circle cx="706.5" cy="2353.2" r="11.8" fill="#fff" stroke="#00cc00" stroke-width="5.4" stroke-linejoin="miter"/>
<circle cx="740.0" cy="2320.3" r="11.8" fill="#fff" stroke="#00cc00" stroke-width="5.4" stroke-linejoin="miter"/>
<circle cx="773.4" cy="2286.8" r="11.8" fill="#fff" stroke="#00cc00" stroke-width="5.4" stroke-linejoin="miter"/>
<circle cx="806.9" cy="2252.6" r="11.8" fill="#fff" stroke="#00cc00" stroke-width="5.4" stroke-linejoin="miter"/>
<circle cx="840.4" cy="2217.7" r="11.8" fill="#fff" stroke="#00cc00" stroke-width="5.4" stroke-linejoin="miter"/>
<circle cx="873.9" cy="2182.1" r="11.8" fill="#fff" stroke="#00cc00" stroke-width="5.4" stroke-linejoin="miter"/>
<circle cx="907.3" cy="2145.9" r="11.8" fill="#fff" stroke="#00cc00" stroke-width="5.4" stroke-linejoin="miter"/>
<path d="M271.4,2719.7 L304.9,2695.8 L338.3,2671.1 L371.8,2637.3 L405.3,2619.8 L438.8,2593.1 L472.2,2565.7 L505.7,2537.6 L539.2,2508.8 L572.6,2479.4 L606.1,2449.3 L639.6,2418.6 L673.0,2387.2 L706.5,2355.1 L740.0,2322.3 L773.4,2288.8 L806.9,2254.7 L840.4,2219.9 L873.9,2184.4 L907.3,2148.2" fill="none" stroke="#169c50" stroke-width="4.8" stroke-linejoin="round"/>
<rect x="260.5" y="2708.8" width="21.8" height="21.8" fill="#fff" stroke="#169c50" stroke-width="5.4" stroke-linejoin="miter"/>
<rect x="294.0" y="2684.9" width="21.8" height="21.8" fill="#fff" stroke="#169c50" stroke-width="5.4" stroke-linejoin="miter"/>
<rect x="327.4" y="2660.2" width="21.8" height="21.8" fill="#fff" stroke="#169c50" stroke-width="5.4" stroke-linejoin="miter"/>
<rect x="360.9" y="2626.4" width="21.8" height="21.8" fill="#fff" stroke="#169c50" stroke-width="5.4" stroke-linejoin="miter"/>
<rect x="394.4" y="2608.9" width="21.8" height="21.8" fill="#fff" stroke="#169c50" stroke-width="5.4" stroke-linejoin="miter"/>
<rect x="427.9" y="2582.2" width="21.8" height="21.8" fill="#fff" stroke="#169c50" stroke-width="5.4" stroke-linejoin="miter"/>
<rect x="461.3" y="2554.8" width="21.8" height="21.8" fill="#fff" stroke="#169c50" stroke-width="5.4" stroke-linejoin="miter"/>
<rect x="494.8" y="2526.7" width="21.8" height="21.8" fill="#fff" stroke="#169c50" stroke-width="5.4" stroke-linejoin="miter"/>
<rect x="528.3" y="2497.9" width="21.8" height="21.8" fill="#fff" stroke="#169c50" stroke-width="5.4" stroke-linejoin="miter"/>
<rect x="561.7" y="2468.5" width="21.8" height="21.8" fill="#fff" stroke="#169c50" stroke-width="5.4" stroke-linejoin="miter"/>
<rect x="595.2" y="2438.4" width="21.8" height="21.8" fill="#fff" stroke="#169c50" stroke-width="5.4" stroke-linejoin="miter"/>
<rect x="628.7" y="2407.7" width="21.8" height="21.8" fill="#fff" stroke="#169c50" stroke-width="5.4" stroke-linejoin="miter"/>
<rect x="662.1" y="2376.3" width="21.8" height="21.8" fill="#fff" stroke="#169c50" stroke-width="5.4" stroke-linejoin="miter"/>
<rect x="695.6" y="2344.2" width="21.8" height="21.8" fill="#fff" stroke="#169c50" stroke-width="5.4" stroke-linejoin="miter"/>
<rect x="729.1" y="2311.4" width="21.8" height="21.8" fill="#fff" stroke="#169c50" stroke-width="5.4" stroke-linejoin="miter"/>
<rect x="762.5" y="2277.9" width="21.8" height="21.8" fill="#fff" stroke="#169c50" stroke-width="5.4" stroke-linejoin="miter"/>
<rect x="796.0" y="2243.8" width="21.8" height="21.8" fill="#fff" stroke="#169c50" stroke-width="5.4" stroke-linejoin="miter"/>
<rect x="829.5" y="2209.0" width="21.8" height="21.8" fill="#fff" stroke="#169c50" stroke-width="5.4" stroke-linejoin="miter"/>
<rect x="863.0" y="2173.5" width="21.8" height="21.8" fill="#fff" stroke="#169c50" stroke-width="5.4" stroke-linejoin="miter"/>
<rect x="896.4" y="2137.3" width="21.8" height="21.8" fill="#fff" stroke="#169c50" stroke-width="5.4" stroke-linejoin="miter"/>
<path d="M271.4,2719.7 L304.9,2696.0 L338.3,2671.6 L371.8,2646.4 L405.3,2620.6 L438.8,2594.1 L472.2,2566.9 L505.7,2539.0 L539.2,2510.4 L572.6,2481.2 L606.1,2451.2 L639.6,2420.6 L673.0,2389.3 L706.5,2357.3 L740.0,2324.6 L773.4,2291.3 L806.9,2257.2 L840.4,2222.5 L873.9,2187.0 L907.3,2150.9" fill="none" stroke="#40bfff" stroke-width="4.8" stroke-linejoin="round"/>
<polygon points="271.4,2705.9 283.2,2727.3 259.6,2727.3" fill="#fff" stroke="#40bfff" stroke-width="5.4" stroke-linejoin="miter"/>
<polygon points="304.9,2682.2 316.7,2703.6 293.1,2703.6" fill="#fff" stroke="#40bfff" stroke-width="5.4" stroke-linejoin="miter"/>
<polygon points="338.3,2657.8 350.1,2679.2 326.5,2679.2" fill="#fff" stroke="#40bfff" stroke-width="5.4" stroke-linejoin="miter"/>
<polygon points="371.8,2632.6 383.6,2654.0 360.0,2654.0" fill="#fff" stroke="#40bfff" stroke-width="5.4" stroke-linejoin="miter"/>
<polygon points="405.3,2606.8 417.1,2628.2 393.5,2628.2" fill="#fff" stroke="#40bfff" stroke-width="5.4" stroke-linejoin="miter"/>
<polygon points="438.8,2580.3 450.6,2601.7 426.9,2601.7" fill="#fff" stroke="#40bfff" stroke-width="5.4" stroke-linejoin="miter"/>
<polygon points="472.2,2553.1 484.0,2574.5 460.4,2574.5" fill="#fff" stroke="#40bfff" stroke-width="5.4" stroke-linejoin="miter"/>
<polygon points="505.7,2525.2 517.5,2546.6 493.9,2546.6" fill="#fff" stroke="#40bfff" stroke-width="5.4" stroke-linejoin="miter"/>
<polygon points="539.2,2496.6 551.0,2518.0 527.4,2518.0" fill="#fff" stroke="#40bfff" stroke-width="5.4" stroke-linejoin="miter"/>
<polygon points="572.6,2467.4 584.4,2488.8 560.8,2488.8" fill="#fff" stroke="#40bfff" stroke-width="5.4" stroke-linejoin="miter"/>
<polygon points="606.1,2437.4 617.9,2458.8 594.3,2458.8" fill="#fff" stroke="#40bfff" stroke-width="5.4" stroke-linejoin="miter"/>
<polygon points="639.6,2406.8 651.4,2428.2 627.8,2428.2" fill="#fff" stroke="#40bfff" stroke-width="5.4" stroke-linejoin="miter"/>
<polygon points="673.0,2375.5 684.8,2396.9 661.2,2396.9" fill="#fff" stroke="#40bfff" stroke-width="5.4" stroke-linejoin="miter"/>
<polygon points="706.5,2343.5 718.3,2364.9 694.7,2364.9" fill="#fff" stroke="#40bfff" stroke-width="5.4" stroke-linejoin="miter"/>
<polygon points="740.0,2310.8 751.8,2332.2 728.2,2332.2" fill="#fff" stroke="#40bfff" stroke-width="5.4" stroke-linejoin="miter"/>
<polygon points="773.4,2277.5 785.2,2298.9 761.6,2298.9" fill="#fff" stroke="#40bfff" stroke-width="5.4" stroke-linejoin="miter"/>
<polygon points="806.9,2243.4 818.7,2264.8 795.1,2264.8" fill="#fff" stroke="#40bfff" stroke-width="5.4" stroke-linejoin="miter"/>
<polygon points="840.4,2208.7 852.2,2230.1 828.6,2230.1" fill="#fff" stroke="#40bfff" stroke-width="5.4" stroke-linejoin="miter"/>
<polygon points="873.9,2173.2 885.7,2194.6 862.1,2194.6" fill="#fff" stroke="#40bfff" stroke-width="5.4" stroke-linejoin="miter"/>
<polygon points="907.3,2137.1 919.1,2158.5 895.5,2158.5" fill="#fff" stroke="#40bfff" stroke-width="5.4" stroke-linejoin="miter"/>
<path d="M271.4,2719.7 L304.9,2696.3 L338.3,2672.2 L371.8,2647.4 L405.3,2621.9 L438.8,2595.6 L472.2,2568.7 L505.7,2541.1 L539.2,2512.8 L572.6,2483.8 L606.1,2454.0 L639.6,2423.6 L673.0,2392.5 L706.5,2360.7 L740.0,2328.2 L773.4,2294.9 L806.9,2261.0 L840.4,2226.4 L873.9,2191.1 L907.3,2155.0" fill="none" stroke="#0033ff" stroke-width="4.8" stroke-linejoin="round"/>
<polygon points="271.4,2704.0 287.1,2719.7 271.4,2735.4 255.7,2719.7" fill="#fff" stroke="#0033ff" stroke-width="5.4" stroke-linejoin="miter"/>
<polygon points="304.9,2680.6 320.6,2696.3 304.9,2712.0 289.2,2696.3" fill="#fff" stroke="#0033ff" stroke-width="5.4" stroke-linejoin="miter"/>
<polygon points="338.3,2656.5 354.0,2672.2 338.3,2687.9 322.6,2672.2" fill="#fff" stroke="#0033ff" stroke-width="5.4" stroke-linejoin="miter"/>
<polygon points="371.8,2631.7 387.5,2647.4 371.8,2663.1 356.1,2647.4" fill="#fff" stroke="#0033ff" stroke-width="5.4" stroke-linejoin="miter"/>
<polygon points="405.3,2606.2 421.0,2621.9 405.3,2637.6 389.6,2621.9" fill="#fff" stroke="#0033ff" stroke-width="5.4" stroke-linejoin="miter"/>
<polygon points="438.8,2579.9 454.4,2595.6 438.8,2611.3 423.1,2595.6" fill="#fff" stroke="#0033ff" stroke-width="5.4" stroke-linejoin="miter"/>
<polygon points="472.2,2553.0 487.9,2568.7 472.2,2584.4 456.5,2568.7" fill="#fff" stroke="#0033ff" stroke-width="5.4" stroke-linejoin="miter"/>
<polygon points="505.7,2525.4 521.4,2541.1 505.7,2556.8 490.0,2541.1" fill="#fff" stroke="#0033ff" stroke-width="5.4" stroke-linejoin="miter"/>
<polygon points="539.2,2497.1 554.9,2512.8 539.2,2528.5 523.5,2512.8" fill="#fff" stroke="#0033ff" stroke-width="5.4" stroke-linejoin="miter"/>
<polygon points="572.6,2468.1 588.3,2483.8 572.6,2499.5 556.9,2483.8" fill="#fff" stroke="#0033ff" stroke-width="5.4" stroke-linejoin="miter"/>
<polygon points="606.1,2438.3 621.8,2454.0 606.1,2469.7 590.4,2454.0" fill="#fff" stroke="#0033ff" stroke-width="5.4" stroke-linejoin="miter"/>
<polygon points="639.6,2407.9 655.3,2423.6 639.6,2439.3 623.9,2423.6" fill="#fff" stroke="#0033ff" stroke-width="5.4" stroke-linejoin="miter"/>
<polygon points="673.0,2376.8 688.7,2392.5 673.0,2408.2 657.3,2392.5" fill="#fff" stroke="#0033ff" stroke-width="5.4" stroke-linejoin="miter"/>
<polygon points="706.5,2345.0 722.2,2360.7 706.5,2376.4 690.8,2360.7" fill="#fff" stroke="#0033ff" stroke-width="5.4" stroke-linejoin="miter"/>
<polygon points="740.0,2312.5 755.7,2328.2 740.0,2343.9 724.3,2328.2" fill="#fff" stroke="#0033ff" stroke-width="5.4" stroke-linejoin="miter"/>
<polygon points="773.4,2279.2 789.1,2294.9 773.4,2310.6 757.7,2294.9" fill="#fff" stroke="#0033ff" stroke-width="5.4" stroke-linejoin="miter"/>
<polygon points="806.9,2245.3 822.6,2261.0 806.9,2276.7 791.2,2261.0" fill="#fff" stroke="#0033ff" stroke-width="5.4" stroke-linejoin="miter"/>
<polygon points="840.4,2210.7 856.1,2226.4 840.4,2242.1 824.7,2226.4" fill="#fff" stroke="#0033ff" stroke-width="5.4" stroke-linejoin="miter"/>
<polygon points="873.9,2175.4 889.6,2191.1 873.9,2206.8 858.2,2191.1" fill="#fff" stroke="#0033ff" stroke-width="5.4" stroke-linejoin="miter"/>
<polygon points="907.3,2139.3 923.0,2155.0 907.3,2170.7 891.6,2155.0" fill="#fff" stroke="#0033ff" stroke-width="5.4" stroke-linejoin="miter"/>
<path d="M271.4,2719.7 L304.9,2696.4 L338.3,2672.5 L371.8,2647.8 L405.3,2622.4 L438.8,2596.3 L472.2,2569.5 L505.7,2542.0 L539.2,2513.8 L572.6,2484.9 L606.1,2455.3 L639.6,2425.0 L673.0,2393.9 L706.5,2362.2 L740.0,2329.7 L773.4,2296.6 L806.9,2262.7 L840.4,2228.1 L873.9,2192.8 L907.3,2156.9" fill="none" stroke="#9a35ea" stroke-width="4.8" stroke-linejoin="round"/>
<polygon points="260.6,2707.3 282.2,2707.3 260.6,2732.1 282.2,2732.1" fill="#fff" stroke="#9a35ea" stroke-width="5.4" stroke-linejoin="miter" stroke-miterlimit="3"/>
<polygon points="294.1,2684.0 315.7,2684.0 294.1,2708.8 315.7,2708.8" fill="#fff" stroke="#9a35ea" stroke-width="5.4" stroke-linejoin="miter" stroke-miterlimit="3"/>
<polygon points="327.5,2660.1 349.1,2660.1 327.5,2684.9 349.1,2684.9" fill="#fff" stroke="#9a35ea" stroke-width="5.4" stroke-linejoin="miter" stroke-miterlimit="3"/>
<polygon points="361.0,2635.4 382.6,2635.4 361.0,2660.2 382.6,2660.2" fill="#fff" stroke="#9a35ea" stroke-width="5.4" stroke-linejoin="miter" stroke-miterlimit="3"/>
<polygon points="394.5,2610.0 416.1,2610.0 394.5,2634.8 416.1,2634.8" fill="#fff" stroke="#9a35ea" stroke-width="5.4" stroke-linejoin="miter" stroke-miterlimit="3"/>
<polygon points="427.9,2583.9 449.6,2583.9 427.9,2608.7 449.6,2608.7" fill="#fff" stroke="#9a35ea" stroke-width="5.4" stroke-linejoin="miter" stroke-miterlimit="3"/>
<polygon points="461.4,2557.1 483.0,2557.1 461.4,2581.9 483.0,2581.9" fill="#fff" stroke="#9a35ea" stroke-width="5.4" stroke-linejoin="miter" stroke-miterlimit="3"/>
<polygon points="494.9,2529.6 516.5,2529.6 494.9,2554.4 516.5,2554.4" fill="#fff" stroke="#9a35ea" stroke-width="5.4" stroke-linejoin="miter" stroke-miterlimit="3"/>
<polygon points="528.4,2501.4 550.0,2501.4 528.4,2526.2 550.0,2526.2" fill="#fff" stroke="#9a35ea" stroke-width="5.4" stroke-linejoin="miter" stroke-miterlimit="3"/>
<polygon points="561.8,2472.5 583.4,2472.5 561.8,2497.3 583.4,2497.3" fill="#fff" stroke="#9a35ea" stroke-width="5.4" stroke-linejoin="miter" stroke-miterlimit="3"/>
<polygon points="595.3,2442.9 616.9,2442.9 595.3,2467.7 616.9,2467.7" fill="#fff" stroke="#9a35ea" stroke-width="5.4" stroke-linejoin="miter" stroke-miterlimit="3"/>
<polygon points="628.8,2412.6 650.4,2412.6 628.8,2437.4 650.4,2437.4" fill="#fff" stroke="#9a35ea" stroke-width="5.4" stroke-linejoin="miter" stroke-miterlimit="3"/>
<polygon points="662.2,2381.5 683.8,2381.5 662.2,2406.3 683.8,2406.3" fill="#fff" stroke="#9a35ea" stroke-width="5.4" stroke-linejoin="miter" stroke-miterlimit="3"/>
<polygon points="695.7,2349.8 717.3,2349.8 695.7,2374.6 717.3,2374.6" fill="#fff" stroke="#9a35ea" stroke-width="5.4" stroke-linejoin="miter" stroke-miterlimit="3"/>
<polygon points="729.2,2317.3 750.8,2317.3 729.2,2342.1 750.8,2342.1" fill="#fff" stroke="#9a35ea" stroke-width="5.4" stroke-linejoin="miter" stroke-miterlimit="3"/>
<polygon points="762.6,2284.2 784.2,2284.2 762.6,2309.0 784.2,2309.0" fill="#fff" stroke="#9a35ea" stroke-width="5.4" stroke-linejoin="miter" stroke-miterlimit="3"/>
<polygon points="796.1,2250.3 817.7,2250.3 796.1,2275.1 817.7,2275.1" fill="#fff" stroke="#9a35ea" stroke-width="5.4" stroke-linejoin="miter" stroke-miterlimit="3"/>
<polygon points="829.6,2215.7 851.2,2215.7 829.6,2240.5 851.2,2240.5" fill="#fff" stroke="#9a35ea" stroke-width="5.4" stroke-linejoin="miter" stroke-miterlimit="3"/>
<polygon points="863.1,2180.4 884.7,2180.4 863.1,2205.2 884.7,2205.2" fill="#fff" stroke="#9a35ea" stroke-width="5.4" stroke-linejoin="miter" stroke-miterlimit="3"/>
<polygon points="896.5,2144.5 918.1,2144.5 896.5,2169.3 918.1,2169.3" fill="#fff" stroke="#9a35ea" stroke-width="5.4" stroke-linejoin="miter" stroke-miterlimit="3"/>
<line x1="251" y1="2095.3" x2="340" y2="2095.3" stroke="#000000" stroke-width="5.4"/>
<circle cx="295.5" cy="2095.3" r="16.9" fill="#000000"/>
<text x="360" y="2112.3" font-family="'Liberation Sans', sans-serif" font-size="48.5" fill="#141414" stroke="#141414" stroke-width="1.0">V<tspan font-size="32" dy="12">g</tspan><tspan dy="-12"> = +0.4 V</tspan></text>
<line x1="251" y1="2157.7" x2="340" y2="2157.7" stroke="#787878" stroke-width="5.4"/>
<rect x="278.9" y="2141.1" width="33.2" height="33.2" fill="#787878"/>
<text x="360" y="2174.7" font-family="'Liberation Sans', sans-serif" font-size="48.5" fill="#141414" stroke="#141414" stroke-width="1.0">V<tspan font-size="32" dy="12">g</tspan><tspan dy="-12"> = +0.2 V</tspan></text>
<line x1="251" y1="2220.1" x2="340" y2="2220.1" stroke="#ff0000" stroke-width="5.4"/>
<polygon points="295.5,2200.0 314.2,2231.9 276.8,2231.9" fill="#ff0000"/>
<text x="360" y="2237.1" font-family="'Liberation Sans', sans-serif" font-size="48.5" fill="#141414" stroke="#141414" stroke-width="1.0">V<tspan font-size="32" dy="12">g</tspan><tspan dy="-12"> = 0 V</tspan></text>
<line x1="251" y1="2282.5" x2="340" y2="2282.5" stroke="#ff7f40" stroke-width="5.4"/>
<polygon points="295.5,2258.8 319.2,2282.5 295.5,2306.2 271.8,2282.5" fill="#ff7f40"/>
<text x="360" y="2299.5" font-family="'Liberation Sans', sans-serif" font-size="48.5" fill="#141414" stroke="#141414" stroke-width="1.0">V<tspan font-size="32" dy="12">g</tspan><tspan dy="-12"> = -0.2 V</tspan></text>
<line x1="251" y1="2344.9" x2="340" y2="2344.9" stroke="#989800" stroke-width="5.4"/>
<polygon points="278.6,2327.7 312.4,2327.7 312.4,2332.2 302.3,2344.9 312.4,2357.6 312.4,2362.1 278.6,2362.1 278.6,2357.6 288.7,2344.9 278.6,2332.2" fill="#989800"/>
<text x="360" y="2361.9" font-family="'Liberation Sans', sans-serif" font-size="48.5" fill="#141414" stroke="#141414" stroke-width="1.0">V<tspan font-size="32" dy="12">g</tspan><tspan dy="-12"> = -0.4 V</tspan></text>
<line x1="629" y1="2464.2" x2="717" y2="2464.2" stroke="#00cc00" stroke-width="5.4"/>
<circle cx="673.0" cy="2464.2" r="13.3" fill="#fff" stroke="#00cc00" stroke-width="5.4" stroke-linejoin="miter"/>
<text x="740" y="2481.2" font-family="'Liberation Sans', sans-serif" font-size="48.5" fill="#141414" stroke="#141414" stroke-width="1.0">V<tspan font-size="32" dy="12">g</tspan><tspan dy="-12"> = -0.6 V</tspan></text>
<line x1="629" y1="2526.2" x2="717" y2="2526.2" stroke="#169c50" stroke-width="5.4"/>
<rect x="660.7" y="2513.9" width="24.6" height="24.6" fill="#fff" stroke="#169c50" stroke-width="5.4" stroke-linejoin="miter"/>
<text x="740" y="2543.2" font-family="'Liberation Sans', sans-serif" font-size="48.5" fill="#141414" stroke="#141414" stroke-width="1.0">V<tspan font-size="32" dy="12">g</tspan><tspan dy="-12"> = -0.8 V</tspan></text>
<line x1="629" y1="2588.2" x2="717" y2="2588.2" stroke="#40bfff" stroke-width="5.4"/>
<polygon points="673.0,2572.6 686.3,2596.8 659.7,2596.8" fill="#fff" stroke="#40bfff" stroke-width="5.4" stroke-linejoin="miter"/>
<text x="740" y="2605.2" font-family="'Liberation Sans', sans-serif" font-size="48.5" fill="#141414" stroke="#141414" stroke-width="1.0">V<tspan font-size="32" dy="12">g</tspan><tspan dy="-12"> = -1.0 V</tspan></text>
<line x1="629" y1="2650.2" x2="717" y2="2650.2" stroke="#0033ff" stroke-width="5.4"/>
<polygon points="673.0,2632.5 690.7,2650.2 673.0,2667.9 655.3,2650.2" fill="#fff" stroke="#0033ff" stroke-width="5.4" stroke-linejoin="miter"/>
<text x="740" y="2667.2" font-family="'Liberation Sans', sans-serif" font-size="48.5" fill="#141414" stroke="#141414" stroke-width="1.0">V<tspan font-size="32" dy="12">g</tspan><tspan dy="-12"> = -1.2 V</tspan></text>
<line x1="629" y1="2712.2" x2="717" y2="2712.2" stroke="#9a35ea" stroke-width="5.4"/>
<polygon points="660.8,2698.2 685.2,2698.2 660.8,2726.2 685.2,2726.2" fill="#fff" stroke="#9a35ea" stroke-width="5.4" stroke-linejoin="miter" stroke-miterlimit="3"/>
<text x="740" y="2729.2" font-family="'Liberation Sans', sans-serif" font-size="48.5" fill="#141414" stroke="#141414" stroke-width="1.0">V<tspan font-size="32" dy="12">g</tspan><tspan dy="-12"> = -1.4 V</tspan></text>
<text font-family="'Liberation Sans', sans-serif" font-size="137"><tspan x="270.2" y="2492.8">(</tspan><tspan x="312.8" y="2492.0" font-size="133" font-weight="bold">e</tspan><tspan x="393.1" y="2492.8">)</tspan></text></g>
<g id="panel-f"><path d="M1230.0,2752.7v-9.5M1230.0,2050.1v9.5M1263.3,2752.7v-19.5M1263.3,2050.1v19.5M1296.6,2752.7v-9.5M1296.6,2050.1v9.5M1329.9,2752.7v-9.5M1329.9,2050.1v9.5M1363.2,2752.7v-9.5M1363.2,2050.1v9.5M1396.5,2752.7v-9.5M1396.5,2050.1v9.5M1429.8,2752.7v-19.5M1429.8,2050.1v19.5M1463.1,2752.7v-9.5M1463.1,2050.1v9.5M1496.4,2752.7v-9.5M1496.4,2050.1v9.5M1529.7,2752.7v-9.5M1529.7,2050.1v9.5M1563.0,2752.7v-9.5M1563.0,2050.1v9.5M1596.3,2752.7v-19.5M1596.3,2050.1v19.5M1629.6,2752.7v-9.5M1629.6,2050.1v9.5M1662.9,2752.7v-9.5M1662.9,2050.1v9.5M1696.2,2752.7v-9.5M1696.2,2050.1v9.5M1729.5,2752.7v-9.5M1729.5,2050.1v9.5M1762.8,2752.7v-19.5M1762.8,2050.1v19.5M1796.1,2752.7v-9.5M1796.1,2050.1v9.5M1829.4,2752.7v-9.5M1829.4,2050.1v9.5M1862.7,2752.7v-9.5M1862.7,2050.1v9.5M1896.0,2752.7v-9.5M1896.0,2050.1v9.5M1929.3,2752.7v-19.5M1929.3,2050.1v19.5M1962.6,2752.7v-9.5M1962.6,2050.1v9.5M1213.0,2719.0h19.5M1980.7,2719.0h-19.5M1213.0,2687.9h10.4M1980.7,2687.9h-10.4M1213.0,2656.8h10.4M1980.7,2656.8h-10.4M1213.0,2625.8h10.4M1980.7,2625.8h-10.4M1213.0,2594.7h10.4M1980.7,2594.7h-10.4M1213.0,2563.6h19.5M1980.7,2563.6h-19.5M1213.0,2532.5h10.4M1980.7,2532.5h-10.4M1213.0,2501.4h10.4M1980.7,2501.4h-10.4M1213.0,2470.4h10.4M1980.7,2470.4h-10.4M1213.0,2439.3h10.4M1980.7,2439.3h-10.4M1213.0,2408.2h19.5M1980.7,2408.2h-19.5M1213.0,2377.1h10.4M1980.7,2377.1h-10.4M1213.0,2346.0h10.4M1980.7,2346.0h-10.4M1213.0,2315.0h10.4M1980.7,2315.0h-10.4M1213.0,2283.9h10.4M1980.7,2283.9h-10.4M1213.0,2252.8h19.5M1980.7,2252.8h-19.5M1213.0,2221.7h10.4M1980.7,2221.7h-10.4M1213.0,2190.6h10.4M1980.7,2190.6h-10.4M1213.0,2159.6h10.4M1980.7,2159.6h-10.4M1213.0,2128.5h10.4M1980.7,2128.5h-10.4M1213.0,2097.4h19.5M1980.7,2097.4h-19.5M1213.0,2066.3h10.4M1980.7,2066.3h-10.4" stroke="#505050" stroke-width="3.4" fill="none"/>
<rect x="1213.0" y="2050.1" width="767.7" height="702.6" fill="none" stroke="#7c7c7c" stroke-width="4.8"/>
<text x="1263.3" y="2818.0" font-family="'Liberation Sans', sans-serif" font-size="59" text-anchor="middle" fill="#141414" stroke="#141414" stroke-width="1.1">0.0</text>
<text x="1429.8" y="2818.0" font-family="'Liberation Sans', sans-serif" font-size="59" text-anchor="middle" fill="#141414" stroke="#141414" stroke-width="1.1">-0.5</text>
<text x="1596.3" y="2818.0" font-family="'Liberation Sans', sans-serif" font-size="59" text-anchor="middle" fill="#141414" stroke="#141414" stroke-width="1.1">-1.0</text>
<text x="1762.8" y="2818.0" font-family="'Liberation Sans', sans-serif" font-size="59" text-anchor="middle" fill="#141414" stroke="#141414" stroke-width="1.1">-1.5</text>
<text x="1929.3" y="2818.0" font-family="'Liberation Sans', sans-serif" font-size="59" text-anchor="middle" fill="#141414" stroke="#141414" stroke-width="1.1">-2.0</text>
<text x="1202.5" y="2739.5" font-family="'Liberation Sans', sans-serif" font-size="59" text-anchor="end" fill="#141414" stroke="#141414" stroke-width="1.1">0</text>
<text x="1202.5" y="2584.1" font-family="'Liberation Sans', sans-serif" font-size="59" text-anchor="end" fill="#141414" stroke="#141414" stroke-width="1.1">-5</text>
<text x="1202.5" y="2428.7" font-family="'Liberation Sans', sans-serif" font-size="59" text-anchor="end" fill="#141414" stroke="#141414" stroke-width="1.1">-10</text>
<text x="1202.5" y="2273.3" font-family="'Liberation Sans', sans-serif" font-size="59" text-anchor="end" fill="#141414" stroke="#141414" stroke-width="1.1">-15</text>
<text x="1202.5" y="2117.9" font-family="'Liberation Sans', sans-serif" font-size="59" text-anchor="end" fill="#141414" stroke="#141414" stroke-width="1.1">-20</text>
<text x="1468.0" y="2898.0" font-family="'Liberation Sans', sans-serif" font-size="68" fill="#141414" stroke="#141414" stroke-width="1.1">V<tspan font-size="48" dy="16.5">drain</tspan><tspan dy="-16.5"> (V)</tspan></text>
<text transform="translate(1094.0,2539.0) rotate(-90)" font-family="'Liberation Sans', sans-serif" font-size="68" fill="#141414" stroke="#141414" stroke-width="1.1">I<tspan font-size="48" dy="16.8">drain</tspan><tspan dy="-16.8"> (µA)</tspan></text><path d="M1263.3,2719.0 L1296.6,2716.5 L1329.9,2712.8 L1363.2,2710.0 L1396.5,2708.1 L1429.8,2706.9 L1463.1,2706.3 L1496.4,2705.9 L1529.7,2705.9 L1563.0,2705.9 L1596.3,2705.9 L1629.6,2705.9 L1662.9,2705.9 L1696.2,2705.9 L1729.5,2705.9 L1762.8,2705.9 L1796.1,2705.9 L1829.4,2705.9 L1862.7,2705.9 L1896.0,2705.9" fill="none" stroke="#000000" stroke-width="4.8" stroke-linejoin="round"/>
<circle cx="1263.3" cy="2719.0" r="15.0" fill="#000000"/>
<circle cx="1296.6" cy="2716.5" r="15.0" fill="#000000"/>
<circle cx="1329.9" cy="2712.8" r="15.0" fill="#000000"/>
<circle cx="1363.2" cy="2710.0" r="15.0" fill="#000000"/>
<circle cx="1396.5" cy="2708.1" r="15.0" fill="#000000"/>
<circle cx="1429.8" cy="2706.9" r="15.0" fill="#000000"/>
<circle cx="1463.1" cy="2706.3" r="15.0" fill="#000000"/>
<circle cx="1496.4" cy="2705.9" r="15.0" fill="#000000"/>
<circle cx="1529.7" cy="2705.9" r="15.0" fill="#000000"/>
<circle cx="1563.0" cy="2705.9" r="15.0" fill="#000000"/>
<circle cx="1596.3" cy="2705.9" r="15.0" fill="#000000"/>
<circle cx="1629.6" cy="2705.9" r="15.0" fill="#000000"/>
<circle cx="1662.9" cy="2705.9" r="15.0" fill="#000000"/>
<circle cx="1696.2" cy="2705.9" r="15.0" fill="#000000"/>
<circle cx="1729.5" cy="2705.9" r="15.0" fill="#000000"/>
<circle cx="1762.8" cy="2705.9" r="15.0" fill="#000000"/>
<circle cx="1796.1" cy="2705.9" r="15.0" fill="#000000"/>
<circle cx="1829.4" cy="2705.9" r="15.0" fill="#000000"/>
<circle cx="1862.7" cy="2705.9" r="15.0" fill="#000000"/>
<circle cx="1896.0" cy="2705.9" r="15.0" fill="#000000"/>
<path d="M1263.3,2719.0 L1296.6,2714.6 L1329.9,2710.0 L1363.2,2707.2 L1396.5,2705.0 L1429.8,2703.5 L1463.1,2702.2 L1496.4,2701.3 L1529.7,2700.7 L1563.0,2700.4 L1596.3,2700.4 L1629.6,2700.4 L1662.9,2700.4 L1696.2,2700.4 L1729.5,2700.4 L1762.8,2700.4 L1796.1,2700.4 L1829.4,2700.4 L1862.7,2700.4 L1896.0,2700.4" fill="none" stroke="#787878" stroke-width="4.8" stroke-linejoin="round"/>
<rect x="1248.6" y="2704.3" width="29.4" height="29.4" fill="#787878"/>
<rect x="1281.9" y="2699.9" width="29.4" height="29.4" fill="#787878"/>
<rect x="1315.2" y="2695.3" width="29.4" height="29.4" fill="#787878"/>
<rect x="1348.5" y="2692.5" width="29.4" height="29.4" fill="#787878"/>
<rect x="1381.8" y="2690.3" width="29.4" height="29.4" fill="#787878"/>
<rect x="1415.1" y="2688.8" width="29.4" height="29.4" fill="#787878"/>
<rect x="1448.4" y="2687.5" width="29.4" height="29.4" fill="#787878"/>
<rect x="1481.7" y="2686.6" width="29.4" height="29.4" fill="#787878"/>
<rect x="1515.0" y="2686.0" width="29.4" height="29.4" fill="#787878"/>
<rect x="1548.3" y="2685.7" width="29.4" height="29.4" fill="#787878"/>
<rect x="1581.6" y="2685.7" width="29.4" height="29.4" fill="#787878"/>
<rect x="1614.9" y="2685.7" width="29.4" height="29.4" fill="#787878"/>
<rect x="1648.2" y="2685.7" width="29.4" height="29.4" fill="#787878"/>
<rect x="1681.5" y="2685.7" width="29.4" height="29.4" fill="#787878"/>
<rect x="1714.8" y="2685.7" width="29.4" height="29.4" fill="#787878"/>
<rect x="1748.1" y="2685.7" width="29.4" height="29.4" fill="#787878"/>
<rect x="1781.4" y="2685.7" width="29.4" height="29.4" fill="#787878"/>
<rect x="1814.7" y="2685.7" width="29.4" height="29.4" fill="#787878"/>
<rect x="1848.0" y="2685.7" width="29.4" height="29.4" fill="#787878"/>
<rect x="1881.3" y="2685.7" width="29.4" height="29.4" fill="#787878"/>
<path d="M1263.3,2719.0 L1296.6,2715.9 L1329.9,2709.7 L1363.2,2703.5 L1396.5,2698.8 L1429.8,2695.7 L1463.1,2693.2 L1496.4,2691.0 L1529.7,2689.8 L1563.0,2688.9 L1596.3,2687.9 L1629.6,2687.6 L1662.9,2687.6 L1696.2,2687.6 L1729.5,2687.6 L1762.8,2687.6 L1796.1,2687.6 L1829.4,2687.6 L1862.7,2687.6 L1896.0,2687.6" fill="none" stroke="#ff0000" stroke-width="4.8" stroke-linejoin="round"/>
<polygon points="1263.3,2699.5 1281.5,2730.5 1245.1,2730.5" fill="#ff0000"/>
<polygon points="1296.6,2696.4 1314.8,2727.4 1278.4,2727.4" fill="#ff0000"/>
<polygon points="1329.9,2690.2 1348.1,2721.2 1311.7,2721.2" fill="#ff0000"/>
<polygon points="1363.2,2684.0 1381.4,2715.0 1345.0,2715.0" fill="#ff0000"/>
<polygon points="1396.5,2679.3 1414.7,2710.3 1378.3,2710.3" fill="#ff0000"/>
<polygon points="1429.8,2676.2 1448.0,2707.2 1411.6,2707.2" fill="#ff0000"/>
<polygon points="1463.1,2673.7 1481.3,2704.7 1444.9,2704.7" fill="#ff0000"/>
<polygon points="1496.4,2671.5 1514.6,2702.5 1478.2,2702.5" fill="#ff0000"/>
<polygon points="1529.7,2670.3 1547.9,2701.3 1511.5,2701.3" fill="#ff0000"/>
<polygon points="1563.0,2669.4 1581.2,2700.4 1544.8,2700.4" fill="#ff0000"/>
<polygon points="1596.3,2668.4 1614.5,2699.4 1578.1,2699.4" fill="#ff0000"/>
<polygon points="1629.6,2668.1 1647.8,2699.1 1611.4,2699.1" fill="#ff0000"/>
<polygon points="1662.9,2668.1 1681.1,2699.1 1644.7,2699.1" fill="#ff0000"/>
<polygon points="1696.2,2668.1 1714.4,2699.1 1678.0,2699.1" fill="#ff0000"/>
<polygon points="1729.5,2668.1 1747.7,2699.1 1711.3,2699.1" fill="#ff0000"/>
<polygon points="1762.8,2668.1 1781.0,2699.1 1744.6,2699.1" fill="#ff0000"/>
<polygon points="1796.1,2668.1 1814.3,2699.1 1777.9,2699.1" fill="#ff0000"/>
<polygon points="1829.4,2668.1 1847.6,2699.1 1811.2,2699.1" fill="#ff0000"/>
<polygon points="1862.7,2668.1 1880.9,2699.1 1844.5,2699.1" fill="#ff0000"/>
<polygon points="1896.0,2668.1 1914.2,2699.1 1877.8,2699.1" fill="#ff0000"/>
<path d="M1263.3,2719.0 L1296.6,2716.5 L1329.9,2703.5 L1363.2,2692.0 L1396.5,2680.5 L1429.8,2672.4 L1463.1,2667.4 L1496.4,2664.3 L1529.7,2662.1 L1563.0,2660.6 L1596.3,2659.3 L1629.6,2658.7 L1662.9,2658.1 L1696.2,2657.5 L1729.5,2656.8 L1762.8,2656.8 L1796.1,2656.5 L1829.4,2656.5 L1862.7,2656.2 L1896.0,2656.2" fill="none" stroke="#ff7f40" stroke-width="4.8" stroke-linejoin="round"/>
<polygon points="1263.3,2698.0 1284.3,2719.0 1263.3,2740.0 1242.3,2719.0" fill="#ff7f40"/>
<polygon points="1296.6,2695.5 1317.6,2716.5 1296.6,2737.5 1275.6,2716.5" fill="#ff7f40"/>
<polygon points="1329.9,2682.5 1350.9,2703.5 1329.9,2724.5 1308.9,2703.5" fill="#ff7f40"/>
<polygon points="1363.2,2671.0 1384.2,2692.0 1363.2,2713.0 1342.2,2692.0" fill="#ff7f40"/>
<polygon points="1396.5,2659.5 1417.5,2680.5 1396.5,2701.5 1375.5,2680.5" fill="#ff7f40"/>
<polygon points="1429.8,2651.4 1450.8,2672.4 1429.8,2693.4 1408.8,2672.4" fill="#ff7f40"/>
<polygon points="1463.1,2646.4 1484.1,2667.4 1463.1,2688.4 1442.1,2667.4" fill="#ff7f40"/>
<polygon points="1496.4,2643.3 1517.4,2664.3 1496.4,2685.3 1475.4,2664.3" fill="#ff7f40"/>
<polygon points="1529.7,2641.1 1550.7,2662.1 1529.7,2683.1 1508.7,2662.1" fill="#ff7f40"/>
<polygon points="1563.0,2639.6 1584.0,2660.6 1563.0,2681.6 1542.0,2660.6" fill="#ff7f40"/>
<polygon points="1596.3,2638.3 1617.3,2659.3 1596.3,2680.3 1575.3,2659.3" fill="#ff7f40"/>
<polygon points="1629.6,2637.7 1650.6,2658.7 1629.6,2679.7 1608.6,2658.7" fill="#ff7f40"/>
<polygon points="1662.9,2637.1 1683.9,2658.1 1662.9,2679.1 1641.9,2658.1" fill="#ff7f40"/>
<polygon points="1696.2,2636.5 1717.2,2657.5 1696.2,2678.5 1675.2,2657.5" fill="#ff7f40"/>
<polygon points="1729.5,2635.8 1750.5,2656.8 1729.5,2677.8 1708.5,2656.8" fill="#ff7f40"/>
<polygon points="1762.8,2635.8 1783.8,2656.8 1762.8,2677.8 1741.8,2656.8" fill="#ff7f40"/>
<polygon points="1796.1,2635.5 1817.1,2656.5 1796.1,2677.5 1775.1,2656.5" fill="#ff7f40"/>
<polygon points="1829.4,2635.5 1850.4,2656.5 1829.4,2677.5 1808.4,2656.5" fill="#ff7f40"/>
<polygon points="1862.7,2635.2 1883.7,2656.2 1862.7,2677.2 1841.7,2656.2" fill="#ff7f40"/>
<polygon points="1896.0,2635.2 1917.0,2656.2 1896.0,2677.2 1875.0,2656.2" fill="#ff7f40"/>
<path d="M1263.3,2719.0 L1296.6,2703.5 L1329.9,2688.9 L1363.2,2667.4 L1396.5,2653.7 L1429.8,2645.3 L1463.1,2638.8 L1496.4,2630.7 L1529.7,2627.0 L1563.0,2623.9 L1596.3,2621.4 L1629.6,2620.5 L1662.9,2619.9 L1696.2,2619.5 L1729.5,2618.6 L1762.8,2617.7 L1796.1,2616.7 L1829.4,2616.1 L1862.7,2615.8 L1896.0,2615.5" fill="none" stroke="#989800" stroke-width="4.8" stroke-linejoin="round"/>
<polygon points="1248.3,2703.8 1278.3,2703.8 1278.3,2707.8 1269.3,2719.0 1278.3,2730.2 1278.3,2734.2 1248.3,2734.2 1248.3,2730.2 1257.3,2719.0 1248.3,2707.8" fill="#989800"/>
<polygon points="1281.6,2688.3 1311.6,2688.3 1311.6,2692.3 1302.6,2703.5 1311.6,2714.7 1311.6,2718.7 1281.6,2718.7 1281.6,2714.7 1290.6,2703.5 1281.6,2692.3" fill="#989800"/>
<polygon points="1314.9,2673.7 1344.9,2673.7 1344.9,2677.7 1335.9,2688.9 1344.9,2700.1 1344.9,2704.1 1314.9,2704.1 1314.9,2700.1 1323.9,2688.9 1314.9,2677.7" fill="#989800"/>
<polygon points="1348.2,2652.2 1378.2,2652.2 1378.2,2656.2 1369.2,2667.4 1378.2,2678.6 1378.2,2682.6 1348.2,2682.6 1348.2,2678.6 1357.2,2667.4 1348.2,2656.2" fill="#989800"/>
<polygon points="1381.5,2638.5 1411.5,2638.5 1411.5,2642.5 1402.5,2653.7 1411.5,2664.9 1411.5,2668.9 1381.5,2668.9 1381.5,2664.9 1390.5,2653.7 1381.5,2642.5" fill="#989800"/>
<polygon points="1414.8,2630.1 1444.8,2630.1 1444.8,2634.1 1435.8,2645.3 1444.8,2656.5 1444.8,2660.5 1414.8,2660.5 1414.8,2656.5 1423.8,2645.3 1414.8,2634.1" fill="#989800"/>
<polygon points="1448.1,2623.6 1478.1,2623.6 1478.1,2627.6 1469.1,2638.8 1478.1,2650.0 1478.1,2654.0 1448.1,2654.0 1448.1,2650.0 1457.1,2638.8 1448.1,2627.6" fill="#989800"/>
<polygon points="1481.4,2615.5 1511.4,2615.5 1511.4,2619.5 1502.4,2630.7 1511.4,2641.9 1511.4,2645.9 1481.4,2645.9 1481.4,2641.9 1490.4,2630.7 1481.4,2619.5" fill="#989800"/>
<polygon points="1514.7,2611.8 1544.7,2611.8 1544.7,2615.8 1535.7,2627.0 1544.7,2638.2 1544.7,2642.2 1514.7,2642.2 1514.7,2638.2 1523.7,2627.0 1514.7,2615.8" fill="#989800"/>
<polygon points="1548.0,2608.7 1578.0,2608.7 1578.0,2612.7 1569.0,2623.9 1578.0,2635.1 1578.0,2639.1 1548.0,2639.1 1548.0,2635.1 1557.0,2623.9 1548.0,2612.7" fill="#989800"/>
<polygon points="1581.3,2606.2 1611.3,2606.2 1611.3,2610.2 1602.3,2621.4 1611.3,2632.6 1611.3,2636.6 1581.3,2636.6 1581.3,2632.6 1590.3,2621.4 1581.3,2610.2" fill="#989800"/>
<polygon points="1614.6,2605.3 1644.6,2605.3 1644.6,2609.3 1635.6,2620.5 1644.6,2631.7 1644.6,2635.7 1614.6,2635.7 1614.6,2631.7 1623.6,2620.5 1614.6,2609.3" fill="#989800"/>
<polygon points="1647.9,2604.7 1677.9,2604.7 1677.9,2608.7 1668.9,2619.9 1677.9,2631.1 1677.9,2635.1 1647.9,2635.1 1647.9,2631.1 1656.9,2619.9 1647.9,2608.7" fill="#989800"/>
<polygon points="1681.2,2604.3 1711.2,2604.3 1711.2,2608.3 1702.2,2619.5 1711.2,2630.7 1711.2,2634.7 1681.2,2634.7 1681.2,2630.7 1690.2,2619.5 1681.2,2608.3" fill="#989800"/>
<polygon points="1714.5,2603.4 1744.5,2603.4 1744.5,2607.4 1735.5,2618.6 1744.5,2629.8 1744.5,2633.8 1714.5,2633.8 1714.5,2629.8 1723.5,2618.6 1714.5,2607.4" fill="#989800"/>
<polygon points="1747.8,2602.5 1777.8,2602.5 1777.8,2606.5 1768.8,2617.7 1777.8,2628.9 1777.8,2632.9 1747.8,2632.9 1747.8,2628.9 1756.8,2617.7 1747.8,2606.5" fill="#989800"/>
<polygon points="1781.1,2601.5 1811.1,2601.5 1811.1,2605.5 1802.1,2616.7 1811.1,2627.9 1811.1,2631.9 1781.1,2631.9 1781.1,2627.9 1790.1,2616.7 1781.1,2605.5" fill="#989800"/>
<polygon points="1814.4,2600.9 1844.4,2600.9 1844.4,2604.9 1835.4,2616.1 1844.4,2627.3 1844.4,2631.3 1814.4,2631.3 1814.4,2627.3 1823.4,2616.1 1814.4,2604.9" fill="#989800"/>
<polygon points="1847.7,2600.6 1877.7,2600.6 1877.7,2604.6 1868.7,2615.8 1877.7,2627.0 1877.7,2631.0 1847.7,2631.0 1847.7,2627.0 1856.7,2615.8 1847.7,2604.6" fill="#989800"/>
<polygon points="1881.0,2600.3 1911.0,2600.3 1911.0,2604.3 1902.0,2615.5 1911.0,2626.7 1911.0,2630.7 1881.0,2630.7 1881.0,2626.7 1890.0,2615.5 1881.0,2604.3" fill="#989800"/>
<path d="M1263.3,2719.0 L1296.6,2689.5 L1329.9,2665.9 L1363.2,2640.7 L1396.5,2620.2 L1429.8,2604.0 L1463.1,2591.0 L1496.4,2581.0 L1529.7,2574.5 L1563.0,2568.3 L1596.3,2563.6 L1629.6,2559.9 L1662.9,2556.8 L1696.2,2554.3 L1729.5,2552.4 L1762.8,2550.9 L1796.1,2549.6 L1829.4,2548.7 L1862.7,2547.7 L1896.0,2547.1" fill="none" stroke="#00cc00" stroke-width="4.8" stroke-linejoin="round"/>
<circle cx="1263.3" cy="2719.0" r="11.8" fill="#fff" stroke="#00cc00" stroke-width="5.4" stroke-linejoin="miter"/>
<circle cx="1296.6" cy="2689.5" r="11.8" fill="#fff" stroke="#00cc00" stroke-width="5.4" stroke-linejoin="miter"/>
<circle cx="1329.9" cy="2665.9" r="11.8" fill="#fff" stroke="#00cc00" stroke-width="5.4" stroke-linejoin="miter"/>
<circle cx="1363.2" cy="2640.7" r="11.8" fill="#fff" stroke="#00cc00" stroke-width="5.4" stroke-linejoin="miter"/>
<circle cx="1396.5" cy="2620.2" r="11.8" fill="#fff" stroke="#00cc00" stroke-width="5.4" stroke-linejoin="miter"/>
<circle cx="1429.8" cy="2604.0" r="11.8" fill="#fff" stroke="#00cc00" stroke-width="5.4" stroke-linejoin="miter"/>
<circle cx="1463.1" cy="2591.0" r="11.8" fill="#fff" stroke="#00cc00" stroke-width="5.4" stroke-linejoin="miter"/>
<circle cx="1496.4" cy="2581.0" r="11.8" fill="#fff" stroke="#00cc00" stroke-width="5.4" stroke-linejoin="miter"/>
<circle cx="1529.7" cy="2574.5" r="11.8" fill="#fff" stroke="#00cc00" stroke-width="5.4" stroke-linejoin="miter"/>
<circle cx="1563.0" cy="2568.3" r="11.8" fill="#fff" stroke="#00cc00" stroke-width="5.4" stroke-linejoin="miter"/>
<circle cx="1596.3" cy="2563.6" r="11.8" fill="#fff" stroke="#00cc00" stroke-width="5.4" stroke-linejoin="miter"/>
<circle cx="1629.6" cy="2559.9" r="11.8" fill="#fff" stroke="#00cc00" stroke-width="5.4" stroke-linejoin="miter"/>
<circle cx="1662.9" cy="2556.8" r="11.8" fill="#fff" stroke="#00cc00" stroke-width="5.4" stroke-linejoin="miter"/>
<circle cx="1696.2" cy="2554.3" r="11.8" fill="#fff" stroke="#00cc00" stroke-width="5.4" stroke-linejoin="miter"/>
<circle cx="1729.5" cy="2552.4" r="11.8" fill="#fff" stroke="#00cc00" stroke-width="5.4" stroke-linejoin="miter"/>
<circle cx="1762.8" cy="2550.9" r="11.8" fill="#fff" stroke="#00cc00" stroke-width="5.4" stroke-linejoin="miter"/>
<circle cx="1796.1" cy="2549.6" r="11.8" fill="#fff" stroke="#00cc00" stroke-width="5.4" stroke-linejoin="miter"/>
<circle cx="1829.4" cy="2548.7" r="11.8" fill="#fff" stroke="#00cc00" stroke-width="5.4" stroke-linejoin="miter"/>
<circle cx="1862.7" cy="2547.7" r="11.8" fill="#fff" stroke="#00cc00" stroke-width="5.4" stroke-linejoin="miter"/>
<circle cx="1896.0" cy="2547.1" r="11.8" fill="#fff" stroke="#00cc00" stroke-width="5.4" stroke-linejoin="miter"/>
<path d="M1263.3,2719.0 L1296.6,2683.3 L1329.9,2650.6 L1363.2,2621.7 L1396.5,2589.1 L1429.8,2563.0 L1463.1,2538.7 L1496.4,2521.3 L1529.7,2507.0 L1563.0,2496.2 L1596.3,2487.8 L1629.6,2480.6 L1662.9,2475.0 L1696.2,2471.0 L1729.5,2467.9 L1762.8,2465.7 L1796.1,2464.1 L1829.4,2463.2 L1862.7,2462.6 L1896.0,2462.0" fill="none" stroke="#169c50" stroke-width="4.8" stroke-linejoin="round"/>
<rect x="1252.4" y="2708.1" width="21.8" height="21.8" fill="#fff" stroke="#169c50" stroke-width="5.4" stroke-linejoin="miter"/>
<rect x="1285.7" y="2672.4" width="21.8" height="21.8" fill="#fff" stroke="#169c50" stroke-width="5.4" stroke-linejoin="miter"/>
<rect x="1319.0" y="2639.7" width="21.8" height="21.8" fill="#fff" stroke="#169c50" stroke-width="5.4" stroke-linejoin="miter"/>
<rect x="1352.3" y="2610.8" width="21.8" height="21.8" fill="#fff" stroke="#169c50" stroke-width="5.4" stroke-linejoin="miter"/>
<rect x="1385.6" y="2578.2" width="21.8" height="21.8" fill="#fff" stroke="#169c50" stroke-width="5.4" stroke-linejoin="miter"/>
<rect x="1418.9" y="2552.1" width="21.8" height="21.8" fill="#fff" stroke="#169c50" stroke-width="5.4" stroke-linejoin="miter"/>
<rect x="1452.2" y="2527.8" width="21.8" height="21.8" fill="#fff" stroke="#169c50" stroke-width="5.4" stroke-linejoin="miter"/>
<rect x="1485.5" y="2510.4" width="21.8" height="21.8" fill="#fff" stroke="#169c50" stroke-width="5.4" stroke-linejoin="miter"/>
<rect x="1518.8" y="2496.1" width="21.8" height="21.8" fill="#fff" stroke="#169c50" stroke-width="5.4" stroke-linejoin="miter"/>
<rect x="1552.1" y="2485.3" width="21.8" height="21.8" fill="#fff" stroke="#169c50" stroke-width="5.4" stroke-linejoin="miter"/>
<rect x="1585.4" y="2476.9" width="21.8" height="21.8" fill="#fff" stroke="#169c50" stroke-width="5.4" stroke-linejoin="miter"/>
<rect x="1618.7" y="2469.7" width="21.8" height="21.8" fill="#fff" stroke="#169c50" stroke-width="5.4" stroke-linejoin="miter"/>
<rect x="1652.0" y="2464.1" width="21.8" height="21.8" fill="#fff" stroke="#169c50" stroke-width="5.4" stroke-linejoin="miter"/>
<rect x="1685.3" y="2460.1" width="21.8" height="21.8" fill="#fff" stroke="#169c50" stroke-width="5.4" stroke-linejoin="miter"/>
<rect x="1718.6" y="2457.0" width="21.8" height="21.8" fill="#fff" stroke="#169c50" stroke-width="5.4" stroke-linejoin="miter"/>
<rect x="1751.9" y="2454.8" width="21.8" height="21.8" fill="#fff" stroke="#169c50" stroke-width="5.4" stroke-linejoin="miter"/>
<rect x="1785.2" y="2453.2" width="21.8" height="21.8" fill="#fff" stroke="#169c50" stroke-width="5.4" stroke-linejoin="miter"/>
<rect x="1818.5" y="2452.3" width="21.8" height="21.8" fill="#fff" stroke="#169c50" stroke-width="5.4" stroke-linejoin="miter"/>
<rect x="1851.8" y="2451.7" width="21.8" height="21.8" fill="#fff" stroke="#169c50" stroke-width="5.4" stroke-linejoin="miter"/>
<rect x="1885.1" y="2451.1" width="21.8" height="21.8" fill="#fff" stroke="#169c50" stroke-width="5.4" stroke-linejoin="miter"/>
<path d="M1263.3,2719.0 L1296.6,2681.1 L1329.9,2639.7 L1363.2,2599.3 L1396.5,2562.0 L1429.8,2527.9 L1463.1,2498.3 L1496.4,2473.5 L1529.7,2451.1 L1563.0,2432.1 L1596.3,2414.7 L1629.6,2404.5 L1662.9,2396.1 L1696.2,2388.3 L1729.5,2381.8 L1762.8,2378.7 L1796.1,2374.9 L1829.4,2372.5 L1862.7,2370.3 L1896.0,2367.8" fill="none" stroke="#40bfff" stroke-width="4.8" stroke-linejoin="round"/>
<polygon points="1263.3,2705.2 1275.1,2726.6 1251.5,2726.6" fill="#fff" stroke="#40bfff" stroke-width="5.4" stroke-linejoin="miter"/>
<polygon points="1296.6,2667.3 1308.4,2688.7 1284.8,2688.7" fill="#fff" stroke="#40bfff" stroke-width="5.4" stroke-linejoin="miter"/>
<polygon points="1329.9,2625.9 1341.7,2647.3 1318.1,2647.3" fill="#fff" stroke="#40bfff" stroke-width="5.4" stroke-linejoin="miter"/>
<polygon points="1363.2,2585.5 1375.0,2606.9 1351.4,2606.9" fill="#fff" stroke="#40bfff" stroke-width="5.4" stroke-linejoin="miter"/>
<polygon points="1396.5,2548.2 1408.3,2569.6 1384.7,2569.6" fill="#fff" stroke="#40bfff" stroke-width="5.4" stroke-linejoin="miter"/>
<polygon points="1429.8,2514.1 1441.6,2535.5 1418.0,2535.5" fill="#fff" stroke="#40bfff" stroke-width="5.4" stroke-linejoin="miter"/>
<polygon points="1463.1,2484.5 1474.9,2505.9 1451.3,2505.9" fill="#fff" stroke="#40bfff" stroke-width="5.4" stroke-linejoin="miter"/>
<polygon points="1496.4,2459.7 1508.2,2481.1 1484.6,2481.1" fill="#fff" stroke="#40bfff" stroke-width="5.4" stroke-linejoin="miter"/>
<polygon points="1529.7,2437.3 1541.5,2458.7 1517.9,2458.7" fill="#fff" stroke="#40bfff" stroke-width="5.4" stroke-linejoin="miter"/>
<polygon points="1563.0,2418.3 1574.8,2439.7 1551.2,2439.7" fill="#fff" stroke="#40bfff" stroke-width="5.4" stroke-linejoin="miter"/>
<polygon points="1596.3,2400.9 1608.1,2422.3 1584.5,2422.3" fill="#fff" stroke="#40bfff" stroke-width="5.4" stroke-linejoin="miter"/>
<polygon points="1629.6,2390.7 1641.4,2412.1 1617.8,2412.1" fill="#fff" stroke="#40bfff" stroke-width="5.4" stroke-linejoin="miter"/>
<polygon points="1662.9,2382.3 1674.7,2403.7 1651.1,2403.7" fill="#fff" stroke="#40bfff" stroke-width="5.4" stroke-linejoin="miter"/>
<polygon points="1696.2,2374.5 1708.0,2395.9 1684.4,2395.9" fill="#fff" stroke="#40bfff" stroke-width="5.4" stroke-linejoin="miter"/>
<polygon points="1729.5,2368.0 1741.3,2389.4 1717.7,2389.4" fill="#fff" stroke="#40bfff" stroke-width="5.4" stroke-linejoin="miter"/>
<polygon points="1762.8,2364.9 1774.6,2386.3 1751.0,2386.3" fill="#fff" stroke="#40bfff" stroke-width="5.4" stroke-linejoin="miter"/>
<polygon points="1796.1,2361.1 1807.9,2382.5 1784.3,2382.5" fill="#fff" stroke="#40bfff" stroke-width="5.4" stroke-linejoin="miter"/>
<polygon points="1829.4,2358.7 1841.2,2380.1 1817.6,2380.1" fill="#fff" stroke="#40bfff" stroke-width="5.4" stroke-linejoin="miter"/>
<polygon points="1862.7,2356.5 1874.5,2377.9 1850.9,2377.9" fill="#fff" stroke="#40bfff" stroke-width="5.4" stroke-linejoin="miter"/>
<polygon points="1896.0,2354.0 1907.8,2375.4 1884.2,2375.4" fill="#fff" stroke="#40bfff" stroke-width="5.4" stroke-linejoin="miter"/>
<path d="M1263.3,2725.2 L1296.6,2680.2 L1329.9,2635.7 L1363.2,2593.1 L1396.5,2554.3 L1429.8,2515.4 L1463.1,2479.7 L1496.4,2447.1 L1529.7,2416.9 L1563.0,2385.8 L1596.3,2362.2 L1629.6,2343.2 L1662.9,2330.8 L1696.2,2319.6 L1729.5,2310.3 L1762.8,2304.1 L1796.1,2297.2 L1829.4,2291.7 L1862.7,2288.5 L1896.0,2285.1" fill="none" stroke="#0033ff" stroke-width="4.8" stroke-linejoin="round"/>
<polygon points="1263.3,2709.5 1279.0,2725.2 1263.3,2740.9 1247.6,2725.2" fill="#fff" stroke="#0033ff" stroke-width="5.4" stroke-linejoin="miter"/>
<polygon points="1296.6,2664.5 1312.3,2680.2 1296.6,2695.8 1280.9,2680.2" fill="#fff" stroke="#0033ff" stroke-width="5.4" stroke-linejoin="miter"/>
<polygon points="1329.9,2620.0 1345.6,2635.7 1329.9,2651.4 1314.2,2635.7" fill="#fff" stroke="#0033ff" stroke-width="5.4" stroke-linejoin="miter"/>
<polygon points="1363.2,2577.4 1378.9,2593.1 1363.2,2608.8 1347.5,2593.1" fill="#fff" stroke="#0033ff" stroke-width="5.4" stroke-linejoin="miter"/>
<polygon points="1396.5,2538.6 1412.2,2554.3 1396.5,2570.0 1380.8,2554.3" fill="#fff" stroke="#0033ff" stroke-width="5.4" stroke-linejoin="miter"/>
<polygon points="1429.8,2499.7 1445.5,2515.4 1429.8,2531.1 1414.1,2515.4" fill="#fff" stroke="#0033ff" stroke-width="5.4" stroke-linejoin="miter"/>
<polygon points="1463.1,2464.0 1478.8,2479.7 1463.1,2495.4 1447.4,2479.7" fill="#fff" stroke="#0033ff" stroke-width="5.4" stroke-linejoin="miter"/>
<polygon points="1496.4,2431.4 1512.1,2447.1 1496.4,2462.8 1480.7,2447.1" fill="#fff" stroke="#0033ff" stroke-width="5.4" stroke-linejoin="miter"/>
<polygon points="1529.7,2401.2 1545.4,2416.9 1529.7,2432.6 1514.0,2416.9" fill="#fff" stroke="#0033ff" stroke-width="5.4" stroke-linejoin="miter"/>
<polygon points="1563.0,2370.1 1578.7,2385.8 1563.0,2401.5 1547.3,2385.8" fill="#fff" stroke="#0033ff" stroke-width="5.4" stroke-linejoin="miter"/>
<polygon points="1596.3,2346.5 1612.0,2362.2 1596.3,2377.9 1580.6,2362.2" fill="#fff" stroke="#0033ff" stroke-width="5.4" stroke-linejoin="miter"/>
<polygon points="1629.6,2327.5 1645.3,2343.2 1629.6,2358.9 1613.9,2343.2" fill="#fff" stroke="#0033ff" stroke-width="5.4" stroke-linejoin="miter"/>
<polygon points="1662.9,2315.1 1678.6,2330.8 1662.9,2346.5 1647.2,2330.8" fill="#fff" stroke="#0033ff" stroke-width="5.4" stroke-linejoin="miter"/>
<polygon points="1696.2,2303.9 1711.9,2319.6 1696.2,2335.3 1680.5,2319.6" fill="#fff" stroke="#0033ff" stroke-width="5.4" stroke-linejoin="miter"/>
<polygon points="1729.5,2294.6 1745.2,2310.3 1729.5,2326.0 1713.8,2310.3" fill="#fff" stroke="#0033ff" stroke-width="5.4" stroke-linejoin="miter"/>
<polygon points="1762.8,2288.4 1778.5,2304.1 1762.8,2319.8 1747.1,2304.1" fill="#fff" stroke="#0033ff" stroke-width="5.4" stroke-linejoin="miter"/>
<polygon points="1796.1,2281.5 1811.8,2297.2 1796.1,2312.9 1780.4,2297.2" fill="#fff" stroke="#0033ff" stroke-width="5.4" stroke-linejoin="miter"/>
<polygon points="1829.4,2276.0 1845.1,2291.7 1829.4,2307.3 1813.7,2291.7" fill="#fff" stroke="#0033ff" stroke-width="5.4" stroke-linejoin="miter"/>
<polygon points="1862.7,2272.8 1878.4,2288.5 1862.7,2304.2 1847.0,2288.5" fill="#fff" stroke="#0033ff" stroke-width="5.4" stroke-linejoin="miter"/>
<polygon points="1896.0,2269.4 1911.7,2285.1 1896.0,2300.8 1880.3,2285.1" fill="#fff" stroke="#0033ff" stroke-width="5.4" stroke-linejoin="miter"/>
<path d="M1263.3,2727.1 L1296.6,2680.5 L1329.9,2635.7 L1363.2,2591.0 L1396.5,2551.2 L1429.8,2508.9 L1463.1,2471.0 L1496.4,2434.3 L1529.7,2395.8 L1563.0,2354.4 L1596.3,2326.1 L1629.6,2301.0 L1662.9,2277.4 L1696.2,2259.9 L1729.5,2241.3 L1762.8,2230.4 L1796.1,2219.2 L1829.4,2212.1 L1862.7,2205.9 L1896.0,2204.3" fill="none" stroke="#9a35ea" stroke-width="4.8" stroke-linejoin="round"/>
<polygon points="1252.5,2714.7 1274.1,2714.7 1252.5,2739.5 1274.1,2739.5" fill="#fff" stroke="#9a35ea" stroke-width="5.4" stroke-linejoin="miter" stroke-miterlimit="3"/>
<polygon points="1285.8,2668.1 1307.4,2668.1 1285.8,2692.9 1307.4,2692.9" fill="#fff" stroke="#9a35ea" stroke-width="5.4" stroke-linejoin="miter" stroke-miterlimit="3"/>
<polygon points="1319.1,2623.3 1340.7,2623.3 1319.1,2648.1 1340.7,2648.1" fill="#fff" stroke="#9a35ea" stroke-width="5.4" stroke-linejoin="miter" stroke-miterlimit="3"/>
<polygon points="1352.4,2578.6 1374.0,2578.6 1352.4,2603.4 1374.0,2603.4" fill="#fff" stroke="#9a35ea" stroke-width="5.4" stroke-linejoin="miter" stroke-miterlimit="3"/>
<polygon points="1385.7,2538.8 1407.3,2538.8 1385.7,2563.6 1407.3,2563.6" fill="#fff" stroke="#9a35ea" stroke-width="5.4" stroke-linejoin="miter" stroke-miterlimit="3"/>
<polygon points="1419.0,2496.5 1440.6,2496.5 1419.0,2521.3 1440.6,2521.3" fill="#fff" stroke="#9a35ea" stroke-width="5.4" stroke-linejoin="miter" stroke-miterlimit="3"/>
<polygon points="1452.3,2458.6 1473.9,2458.6 1452.3,2483.4 1473.9,2483.4" fill="#fff" stroke="#9a35ea" stroke-width="5.4" stroke-linejoin="miter" stroke-miterlimit="3"/>
<polygon points="1485.6,2421.9 1507.2,2421.9 1485.6,2446.7 1507.2,2446.7" fill="#fff" stroke="#9a35ea" stroke-width="5.4" stroke-linejoin="miter" stroke-miterlimit="3"/>
<polygon points="1518.9,2383.4 1540.5,2383.4 1518.9,2408.2 1540.5,2408.2" fill="#fff" stroke="#9a35ea" stroke-width="5.4" stroke-linejoin="miter" stroke-miterlimit="3"/>
<polygon points="1552.2,2342.0 1573.8,2342.0 1552.2,2366.8 1573.8,2366.8" fill="#fff" stroke="#9a35ea" stroke-width="5.4" stroke-linejoin="miter" stroke-miterlimit="3"/>
<polygon points="1585.5,2313.7 1607.1,2313.7 1585.5,2338.5 1607.1,2338.5" fill="#fff" stroke="#9a35ea" stroke-width="5.4" stroke-linejoin="miter" stroke-miterlimit="3"/>
<polygon points="1618.8,2288.6 1640.4,2288.6 1618.8,2313.4 1640.4,2313.4" fill="#fff" stroke="#9a35ea" stroke-width="5.4" stroke-linejoin="miter" stroke-miterlimit="3"/>
<polygon points="1652.1,2265.0 1673.7,2265.0 1652.1,2289.8 1673.7,2289.8" fill="#fff" stroke="#9a35ea" stroke-width="5.4" stroke-linejoin="miter" stroke-miterlimit="3"/>
<polygon points="1685.4,2247.5 1707.0,2247.5 1685.4,2272.3 1707.0,2272.3" fill="#fff" stroke="#9a35ea" stroke-width="5.4" stroke-linejoin="miter" stroke-miterlimit="3"/>
<polygon points="1718.7,2228.9 1740.3,2228.9 1718.7,2253.7 1740.3,2253.7" fill="#fff" stroke="#9a35ea" stroke-width="5.4" stroke-linejoin="miter" stroke-miterlimit="3"/>
<polygon points="1752.0,2218.0 1773.6,2218.0 1752.0,2242.8 1773.6,2242.8" fill="#fff" stroke="#9a35ea" stroke-width="5.4" stroke-linejoin="miter" stroke-miterlimit="3"/>
<polygon points="1785.3,2206.8 1806.9,2206.8 1785.3,2231.6 1806.9,2231.6" fill="#fff" stroke="#9a35ea" stroke-width="5.4" stroke-linejoin="miter" stroke-miterlimit="3"/>
<polygon points="1818.6,2199.7 1840.2,2199.7 1818.6,2224.5 1840.2,2224.5" fill="#fff" stroke="#9a35ea" stroke-width="5.4" stroke-linejoin="miter" stroke-miterlimit="3"/>
<polygon points="1851.9,2193.5 1873.5,2193.5 1851.9,2218.3 1873.5,2218.3" fill="#fff" stroke="#9a35ea" stroke-width="5.4" stroke-linejoin="miter" stroke-miterlimit="3"/>
<polygon points="1885.2,2191.9 1906.8,2191.9 1885.2,2216.7 1906.8,2216.7" fill="#fff" stroke="#9a35ea" stroke-width="5.4" stroke-linejoin="miter" stroke-miterlimit="3"/><text font-family="'Liberation Sans', sans-serif" font-size="137"><tspan x="1262.4" y="2490.8">(</tspan><tspan x="1304.8" y="2490.0" font-size="133" font-weight="bold">f</tspan><tspan x="1352.5" y="2490.8">)</tspan></text></g></g>
</svg></body></html>
